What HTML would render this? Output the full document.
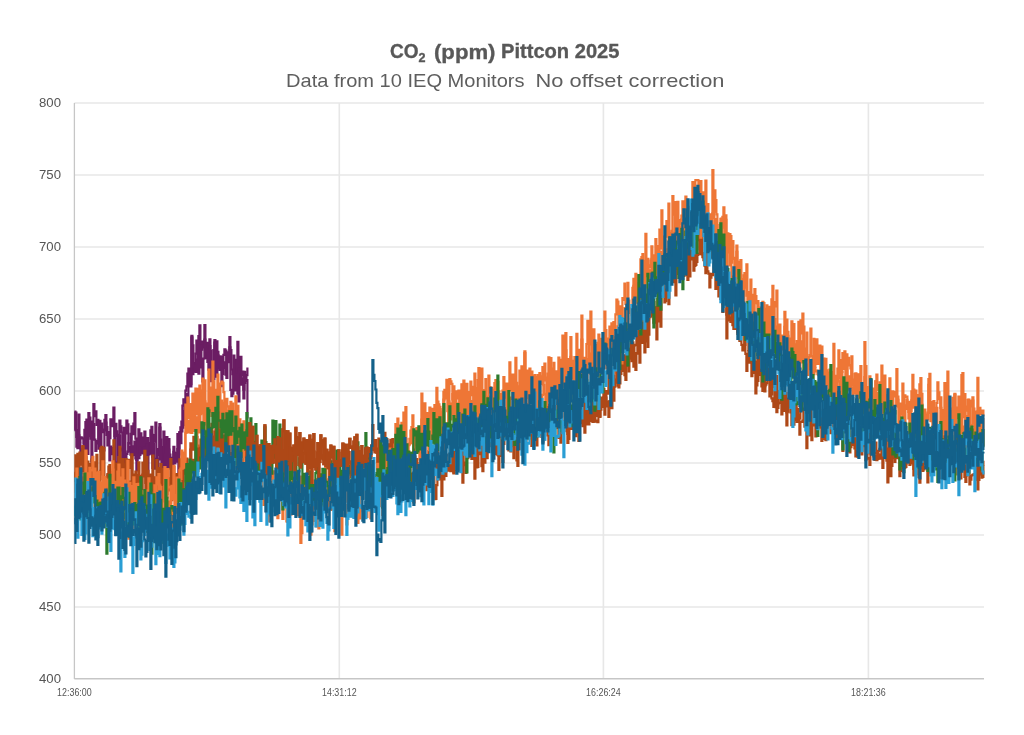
<!DOCTYPE html>
<html><head><meta charset="utf-8"><style>
html,body{margin:0;padding:0;background:#fff;width:1024px;height:735px;overflow:hidden}
svg{display:block;font-family:"Liberation Sans",sans-serif;will-change:transform}
</style></head><body>
<svg width="1024" height="735" viewBox="0 0 1024 735">
<rect width="1024" height="735" fill="#fff"/>
<g stroke="#e7e7e7" stroke-width="1.6"><line x1="74.4" y1="103" x2="984" y2="103"/><line x1="74.4" y1="175" x2="984" y2="175"/><line x1="74.4" y1="247" x2="984" y2="247"/><line x1="74.4" y1="319" x2="984" y2="319"/><line x1="74.4" y1="391" x2="984" y2="391"/><line x1="74.4" y1="463" x2="984" y2="463"/><line x1="74.4" y1="535" x2="984" y2="535"/><line x1="74.4" y1="607" x2="984" y2="607"/><line x1="74.4" y1="679" x2="984" y2="679"/><line x1="339.3" y1="103" x2="339.3" y2="679"/><line x1="603.4" y1="103" x2="603.4" y2="679"/><line x1="868.4" y1="103" x2="868.4" y2="679"/></g>
<g stroke="#c6c6c6" stroke-width="1.3"><line x1="74.4" y1="103" x2="74.4" y2="679"/><line x1="74.4" y1="678.6" x2="984" y2="678.6"/></g>
<g font-size="13" fill="#555"><text x="39" y="106.6" textLength="22" lengthAdjust="spacingAndGlyphs">800</text><text x="39" y="178.6" textLength="22" lengthAdjust="spacingAndGlyphs">750</text><text x="39" y="250.6" textLength="22" lengthAdjust="spacingAndGlyphs">700</text><text x="39" y="322.6" textLength="22" lengthAdjust="spacingAndGlyphs">650</text><text x="39" y="394.6" textLength="22" lengthAdjust="spacingAndGlyphs">600</text><text x="39" y="466.6" textLength="22" lengthAdjust="spacingAndGlyphs">550</text><text x="39" y="538.6" textLength="22" lengthAdjust="spacingAndGlyphs">500</text><text x="39" y="610.6" textLength="22" lengthAdjust="spacingAndGlyphs">450</text><text x="39" y="682.6" textLength="22" lengthAdjust="spacingAndGlyphs">400</text></g>
<g font-size="10.3" fill="#555"><text x="57.1" y="696" textLength="34.6" lengthAdjust="spacingAndGlyphs">12:36:00</text><text x="322.0" y="696" textLength="34.6" lengthAdjust="spacingAndGlyphs">14:31:12</text><text x="586.1" y="696" textLength="34.6" lengthAdjust="spacingAndGlyphs">16:26:24</text><text x="851.1" y="696" textLength="34.6" lengthAdjust="spacingAndGlyphs">18:21:36</text></g>
<g fill="#585858" font-weight="bold" stroke="#585858" stroke-width="0.35">
<text x="390" y="58.2" font-size="20" textLength="28.5" lengthAdjust="spacingAndGlyphs">CO</text>
<text x="418.6" y="62.3" font-size="12" textLength="7" lengthAdjust="spacingAndGlyphs">2</text>
<text x="434" y="58.6" font-size="21" textLength="61.5" lengthAdjust="spacingAndGlyphs">(ppm)</text>
<text x="501" y="58.2" font-size="20" textLength="118.5" lengthAdjust="spacingAndGlyphs">Pittcon 2025</text>
</g>
<g fill="#5e5e5e" font-size="19">
<text x="286" y="86.6" textLength="238.5" lengthAdjust="spacingAndGlyphs">Data from 10 IEQ Monitors</text>
<text x="535.5" y="86.6" textLength="189" lengthAdjust="spacingAndGlyphs">No offset correction</text>
</g>
<g fill="none" stroke-width="2.2" stroke-linejoin="miter" stroke-miterlimit="10"><path d="M74.4,411.7H75.4V430.2H76.4V437.0H77.4V434.4H78.4V414.7H79.4V441.9H80.4V437.4H81.4V437.5H82.4V438.5H83.4V443.7H84.4V458.8H85.4V422.1H86.4V431.3H87.4V453.9H88.4V413.1H89.4V435.8H90.4V421.5H91.4V429.8H92.4V435.6H93.4V404.1H94.4V416.1H95.4V411.4H96.4V424.8H97.4V419.8H98.4V448.6H99.4V420.8H100.4V451.3H101.4V423.7H102.4V432.2H103.4V430.5H104.4V429.7H105.4V415.1H106.4V434.8H107.4V434.7H108.4V432.5H109.4V438.2H110.4V419.4H111.4V426.2H112.4V421.2H113.4V407.6H114.4V435.9H115.4V423.8H116.4V431.3H117.4V462.5H118.4V436.7H119.4V435.3H120.4V448.5H121.4V450.4H122.4V458.0H123.4V427.9H124.4V458.0H125.4V433.5H126.4V420.6H127.4V424.4H128.4V451.2H129.4V447.1H130.4V454.6H131.4V426.4H132.4V434.2H133.4V423.5H134.4V413.1H135.4V438.6H136.4V460.0H137.4V454.0H138.4V429.3H139.4V454.9H140.4V433.4H141.4V445.7H142.4V453.3H143.4V437.6H144.4V431.6H145.4V452.5H146.4V442.7H147.4V438.2H148.4V454.4H149.4V443.2H150.4V451.4H151.4V434.6H152.4V456.8H153.4V435.0H154.4V441.6H155.4V422.5H156.4V462.9H157.4V449.1H158.4V455.0H159.4V427.6H160.4V452.4H161.4V447.0H162.4V467.6H163.4V431.6H164.4V457.1H165.4V466.4H166.4V437.1H167.4V454.9H168.4V439.2H169.4V454.6H170.4V459.2H171.4V472.4H172.4V457.8H173.4V446.9H174.4V463.3H175.4V453.8H176.4V461.7H177.4V434.2H178.4V454.3H179.4V432.0H180.4V427.3H181.4V431.3H182.4V405.6H183.4V399.4H184.4V405.3H185.4V390.6H186.4V386.4H187.4V373.7H188.4V368.6H189.4V376.5H190.4V384.2H191.4V337.3H192.4V374.2H193.4V363.0H194.4V368.0H195.4V353.6H196.4V340.6H197.4V346.5H198.4V336.1H199.4V325.4H200.4V345.5H201.4V349.6H202.4V341.6H203.4V347.3H204.4V325.0H205.4V358.2H206.4V342.8H207.4V345.8H208.4V355.3H209.4V339.4H210.4V381.2H211.4V363.1H212.4V363.4H213.4V350.2H214.4V340.2H215.4V356.5H216.4V341.4H217.4V355.1H218.4V356.6H219.4V369.9H220.4V359.9H221.4V356.8H222.4V373.8H223.4V354.8H224.4V349.4H225.4V350.7H226.4V378.0H227.4V361.0H228.4V354.3H229.4V337.1H230.4V350.1H231.4V369.5H232.4V374.2H233.4V389.6H234.4V359.8H235.4V376.0H236.4V387.2H237.4V341.8H238.4V401.3H239.4V356.9H240.4V356.9H241.4V384.6H242.4V378.7H243.4V389.7H244.4V382.9H245.4V379.8H246.4V375.1H247.4V367.5" stroke="#6b1d63"/><path d="M74.4,428.8H75.4V412.5H76.4V446.7H77.4V448.2H78.4V435.3H79.4V443.9H80.4V461.2H81.4V453.5H82.4V449.3H83.4V449.6H84.4V429.9H85.4V453.7H86.4V419.5H87.4V436.1H88.4V435.1H89.4V417.6H90.4V438.6H91.4V461.4H92.4V435.2H93.4V424.2H94.4V439.6H95.4V451.0H96.4V443.5H97.4V441.1H98.4V422.9H99.4V448.0H100.4V448.4H101.4V458.9H102.4V461.0H103.4V450.5H104.4V419.8H105.4V422.6H106.4V427.1H107.4V445.3H108.4V432.2H109.4V460.3H110.4V446.5H111.4V448.7H112.4V454.1H113.4V448.2H114.4V425.2H115.4V474.8H116.4V462.5H117.4V464.1H118.4V434.9H119.4V420.5H120.4V426.3H121.4V432.5H122.4V458.6H123.4V458.6H124.4V465.4H125.4V474.1H126.4V453.8H127.4V451.6H128.4V443.2H129.4V443.4H130.4V433.8H131.4V456.1H132.4V455.0H133.4V446.4H134.4V441.7H135.4V458.5H136.4V470.5H137.4V454.9H138.4V458.1H139.4V447.7H140.4V451.4H141.4V450.4H142.4V451.2H143.4V447.5H144.4V460.9H145.4V473.4H146.4V444.3H147.4V475.4H148.4V453.1H149.4V453.7H150.4V430.4H151.4V426.8H152.4V468.0H153.4V443.8H154.4V468.7H155.4V458.9H156.4V462.2H157.4V476.8H158.4V459.3H159.4V424.2H160.4V439.7H161.4V475.4H162.4V489.4H163.4V462.7H164.4V454.9H165.4V445.9H166.4V472.2H167.4V441.8H168.4V449.6H169.4V468.5H170.4V468.4H171.4V464.7H172.4V482.6H173.4V451.9H174.4V453.1H175.4V460.9H176.4V460.6H177.4V449.1H178.4V473.2H179.4V432.6H180.4V443.2H181.4V421.6H182.4V427.6H183.4V411.2H184.4V405.1H185.4V425.2H186.4V394.2H187.4V414.3H188.4V375.5H189.4V371.8H190.4V386.4H191.4V335.9H192.4V345.3H193.4V366.2H194.4V371.5H195.4V371.9H196.4V359.7H197.4V344.1H198.4V373.7H199.4V367.4H200.4V345.3H201.4V360.3H202.4V381.4H203.4V358.5H204.4V339.6H205.4V348.5H206.4V350.9H207.4V362.0H208.4V369.6H209.4V346.2H210.4V350.8H211.4V374.6H212.4V371.1H213.4V379.1H214.4V342.5H215.4V350.2H216.4V376.7H217.4V351.8H218.4V368.3H219.4V364.3H220.4V356.7H221.4V386.2H222.4V367.9H223.4V362.3H224.4V367.6H225.4V374.7H226.4V352.3H227.4V362.2H228.4V357.7H229.4V347.3H230.4V389.8H231.4V396.2H232.4V393.6H233.4V355.5H234.4V385.4H235.4V390.3H236.4V374.4H237.4V393.5H238.4V368.5H239.4V369.4H240.4V372.3H241.4V374.8H242.4V371.6H243.4V398.3H244.4V371.8H245.4V381.0H246.4V380.0H247.4V418.6" stroke="#6b1d63"/><path d="M74.4,472.8H75.4V491.7H76.4V478.0H77.4V453.8H78.4V460.7H79.4V478.6H80.4V468.4H81.4V483.6H82.4V446.0H83.4V494.1H84.4V491.4H85.4V451.5H86.4V465.5H87.4V461.5H88.4V464.7H89.4V481.1H90.4V464.0H91.4V459.5H92.4V480.1H93.4V488.0H94.4V466.9H95.4V475.6H96.4V454.8H97.4V484.1H98.4V499.9H99.4V478.8H100.4V470.9H101.4V446.9H102.4V468.3H103.4V447.8H104.4V482.9H105.4V494.9H106.4V490.5H107.4V475.3H108.4V479.1H109.4V465.0H110.4V475.4H111.4V475.4H112.4V473.0H113.4V440.4H114.4V476.5H115.4V478.7H116.4V463.7H117.4V478.8H118.4V483.5H119.4V446.9H120.4V484.2H121.4V467.3H122.4V459.1H123.4V476.2H124.4V464.3H125.4V468.8H126.4V462.1H127.4V466.9H128.4V459.9H129.4V468.0H130.4V460.6H131.4V457.4H132.4V486.7H133.4V474.6H134.4V479.2H135.4V496.2H136.4V483.2H137.4V475.1H138.4V462.3H139.4V486.8H140.4V482.4H141.4V489.6H142.4V474.5H143.4V472.1H144.4V450.9H145.4V483.0H146.4V457.0H147.4V470.9H148.4V483.2H149.4V478.0H150.4V475.4H151.4V483.1H152.4V455.5H153.4V477.8H154.4V492.5H155.4V492.2H156.4V460.1H157.4V491.0H158.4V484.8H159.4V468.0H160.4V464.2H161.4V480.1H162.4V499.8H163.4V488.5H164.4V471.6H165.4V484.7H166.4V497.3H167.4V483.2H168.4V478.5H169.4V490.3H170.4V459.2H171.4V491.2H172.4V469.9H173.4V485.8H174.4V491.9H175.4V484.1H176.4V474.2H177.4V477.2H178.4V489.9H179.4V459.4H180.4V463.3H181.4V476.7H182.4V481.5H183.4V469.2H184.4V460.6H185.4V473.5H186.4V458.7H187.4V486.3H188.4V475.5H189.4V480.6H190.4V443.4H191.4V447.3H192.4V449.6H193.4V436.9H194.4V445.4H195.4V462.4H196.4V437.0H197.4V445.5H198.4V467.7H199.4V451.5H200.4V452.9H201.4V446.3H202.4V437.1H203.4V439.7H204.4V447.1H205.4V435.5H206.4V443.4H207.4V437.2H208.4V441.2H209.4V461.3H210.4V449.3H211.4V423.9H212.4V436.6H213.4V460.8H214.4V459.0H215.4V421.4H216.4V441.6H217.4V436.6H218.4V406.3H219.4V442.4H220.4V463.7H221.4V430.3H222.4V436.3H223.4V453.3H224.4V435.8H225.4V435.7H226.4V444.3H227.4V424.1H228.4V448.9H229.4V426.5H230.4V443.6H231.4V453.8H232.4V465.0H233.4V435.8H234.4V448.8H235.4V450.5H236.4V425.9H237.4V447.1H238.4V451.5H239.4V455.8H240.4V474.4H241.4V451.5H242.4V448.5H243.4V448.0H244.4V450.0H245.4V456.9H246.4V470.9H247.4V437.9H248.4V451.7H249.4V423.0H250.4V432.1H251.4V454.5H252.4V426.9H253.4V458.0H254.4V470.7H255.4V443.4H256.4V445.4H257.4V454.5H258.4V448.4H259.4V454.1H260.4V445.2H261.4V464.7H262.4V457.5H263.4V452.8H264.4V425.3H265.4V444.1H266.4V453.3H267.4V461.8H268.4V444.2H269.4V460.7H270.4V463.0H271.4V446.0H272.4V462.6H273.4V451.3H274.4V439.4H275.4V452.9H276.4V469.0H277.4V457.4H278.4V452.1H279.4V462.0H280.4V460.7H281.4V454.6H282.4V429.3H283.4V420.3H284.4V431.1H285.4V471.5H286.4V459.4H287.4V431.3H288.4V460.2H289.4V433.7H290.4V452.7H291.4V461.2H292.4V448.0H293.4V458.9H294.4V460.1H295.4V427.8H296.4V447.1H297.4V454.6H298.4V442.8H299.4V433.0H300.4V467.3H301.4V452.4H302.4V442.6H303.4V438.5H304.4V448.4H305.4V463.6H306.4V442.9H307.4V454.8H308.4V452.5H309.4V446.6H310.4V449.8H311.4V450.9H312.4V439.8H313.4V434.0H314.4V460.5H315.4V469.4H316.4V459.7H317.4V443.1H318.4V453.6H319.4V445.9H320.4V435.4H321.4V440.4H322.4V446.1H323.4V459.3H324.4V438.5H325.4V466.1H326.4V453.3H327.4V468.1H328.4V465.1H329.4V454.6H330.4V453.5H331.4V456.6H332.4V457.3H333.4V461.6H334.4V474.9H335.4V461.2H336.4V473.7H337.4V466.2H338.4V450.4H339.4V460.1H340.4V463.1H341.4V465.5H342.4V450.7H343.4V468.1H344.4V447.9H345.4V453.1H346.4V462.9H347.4V456.8H348.4V444.9H349.4V438.9H350.4V447.9H351.4V446.6H352.4V479.7H353.4V441.7H354.4V437.3H355.4V480.6H356.4V434.8H357.4V447.4H358.4V460.1H359.4V455.2H360.4V458.1H361.4V472.7H362.4V481.8H363.4V455.9H364.4V458.3H365.4V450.1H366.4V447.5H367.4V449.4H368.4V456.4H369.4V448.0H370.4V457.7H371.4V448.7H372.4V441.1H373.4V449.8H374.4V450.5H375.4V448.7H376.4V450.1H377.4V461.8H378.4V438.7H379.4V465.7H380.4V447.6H381.4V453.4H382.4V469.5H383.4V466.1H384.4V432.8H385.4V460.1H386.4V471.6H387.4V444.3H388.4V450.0H389.4V471.4H390.4V439.8H391.4V476.5H392.4V439.0H393.4V447.4H394.4V449.6H395.4V453.2H396.4V469.1H397.4V465.9H398.4V463.4H399.4V465.0H400.4V444.3H401.4V456.5H402.4V476.5H403.4V449.1H404.4V479.9H405.4V461.6H406.4V450.8H407.4V472.0H408.4V471.7H409.4V455.0H410.4V456.8H411.4V452.8H412.4V456.2H413.4V436.9H414.4V456.7H415.4V479.9H416.4V459.0H417.4V469.6H418.4V476.3H419.4V467.5H420.4V460.6H421.4V459.9H422.4V460.9H423.4V471.5H424.4V463.3H425.4V476.8H426.4V490.2H427.4V474.7H428.4V451.2H429.4V471.8H430.4V465.3H431.4V461.6H432.4V457.0H433.4V461.4H434.4V499.1H435.4V499.0H436.4V485.1H437.4V452.3H438.4V465.6H439.4V475.8H440.4V459.1H441.4V469.4H442.4V474.7H443.4V479.3H444.4V466.0H445.4V464.1H446.4V457.1H447.4V454.6H448.4V460.2H449.4V456.1H450.4V466.3H451.4V460.2H452.4V452.4H453.4V472.3H454.4V450.5H455.4V461.5H456.4V460.7H457.4V446.8H458.4V453.1H459.4V456.6H460.4V445.9H461.4V436.1H462.4V482.7H463.4V441.9H464.4V446.1H465.4V445.7H466.4V447.6H467.4V458.1H468.4V456.4H469.4V438.9H470.4V450.0H471.4V453.8H472.4V443.5H473.4V458.9H474.4V447.6H475.4V456.5H476.4V433.3H477.4V467.0H478.4V443.5H479.4V433.5H480.4V434.3H481.4V435.7H482.4V448.4H483.4V416.7H484.4V432.2H485.4V456.9H486.4V458.1H487.4V430.5H488.4V445.5H489.4V446.1H490.4V441.2H491.4V437.7H492.4V453.3H493.4V440.9H494.4V447.4H495.4V454.1H496.4V432.7H497.4V433.7H498.4V470.0H499.4V431.6H500.4V455.9H501.4V455.5H502.4V441.4H503.4V435.9H504.4V437.0H505.4V428.9H506.4V437.5H507.4V435.3H508.4V431.0H509.4V432.8H510.4V446.1H511.4V436.6H512.4V433.5H513.4V458.2H514.4V434.7H515.4V442.5H516.4V425.5H517.4V424.9H518.4V443.3H519.4V448.9H520.4V402.4H521.4V443.7H522.4V443.9H523.4V433.8H524.4V439.3H525.4V417.8H526.4V434.4H527.4V416.7H528.4V426.6H529.4V424.2H530.4V429.7H531.4V412.5H532.4V430.7H533.4V431.6H534.4V439.5H535.4V418.5H536.4V431.4H537.4V417.3H538.4V430.3H539.4V416.5H540.4V410.1H541.4V416.5H542.4V441.7H543.4V439.9H544.4V423.1H545.4V423.2H546.4V426.5H547.4V404.9H548.4V445.2H549.4V410.3H550.4V407.0H551.4V419.2H552.4V409.7H553.4V424.6H554.4V428.2H555.4V416.4H556.4V421.2H557.4V411.1H558.4V398.2H559.4V404.3H560.4V442.6H561.4V416.4H562.4V395.9H563.4V405.6H564.4V408.4H565.4V426.8H566.4V417.8H567.4V434.0H568.4V439.0H569.4V423.4H570.4V421.3H571.4V429.0H572.4V408.8H573.4V410.0H574.4V392.9H575.4V422.1H576.4V402.1H577.4V416.1H578.4V440.9H579.4V396.7H580.4V406.7H581.4V399.7H582.4V397.9H583.4V419.4H584.4V390.8H585.4V413.9H586.4V410.7H587.4V421.6H588.4V387.8H589.4V394.2H590.4V420.9H591.4V387.1H592.4V410.6H593.4V421.4H594.4V389.0H595.4V393.3H596.4V415.8H597.4V388.9H598.4V413.2H599.4V416.3H600.4V401.4H601.4V399.4H602.4V398.5H603.4V388.8H604.4V405.5H605.4V402.2H606.4V391.0H607.4V393.6H608.4V371.5H609.4V375.0H610.4V360.1H611.4V376.3H612.4V392.1H613.4V384.1H614.4V372.8H615.4V372.1H616.4V370.3H617.4V385.6H618.4V357.1H619.4V383.5H620.4V373.8H621.4V348.1H622.4V371.0H623.4V371.0H624.4V355.3H625.4V379.8H626.4V346.7H627.4V350.5H628.4V355.9H629.4V358.5H630.4V348.8H631.4V361.1H632.4V342.3H633.4V355.3H634.4V345.5H635.4V344.8H636.4V331.3H637.4V339.4H638.4V320.1H639.4V318.5H640.4V332.8H641.4V342.8H642.4V318.8H643.4V333.7H644.4V352.3H645.4V330.8H646.4V330.4H647.4V318.4H648.4V295.1H649.4V311.8H650.4V316.5H651.4V300.8H652.4V315.0H653.4V302.0H654.4V319.4H655.4V308.1H656.4V307.6H657.4V308.0H658.4V299.8H659.4V318.2H660.4V285.0H661.4V287.0H662.4V295.1H663.4V296.0H664.4V276.0H665.4V301.0H666.4V285.2H667.4V292.2H668.4V274.7H669.4V273.3H670.4V280.4H671.4V269.9H672.4V266.3H673.4V275.4H674.4V279.7H675.4V267.0H676.4V274.0H677.4V258.6H678.4V271.6H679.4V254.6H680.4V267.6H681.4V250.7H682.4V264.0H683.4V271.9H684.4V260.5H685.4V238.9H686.4V275.1H687.4V249.1H688.4V229.7H689.4V276.4H690.4V245.5H691.4V259.4H692.4V252.8H693.4V270.6H694.4V265.8H695.4V224.0H696.4V249.1H697.4V229.7H698.4V240.2H699.4V237.9H700.4V239.2H701.4V228.9H702.4V253.2H703.4V257.1H704.4V258.6H705.4V273.2H706.4V251.1H707.4V244.1H708.4V257.2H709.4V228.2H710.4V257.5H711.4V247.5H712.4V250.0H713.4V248.7H714.4V252.3H715.4V273.1H716.4V252.3H717.4V262.6H718.4V278.7H719.4V277.5H720.4V299.0H721.4V286.2H722.4V311.9H723.4V300.2H724.4V279.9H725.4V292.2H726.4V314.7H727.4V282.4H728.4V289.5H729.4V281.7H730.4V305.1H731.4V321.0H732.4V325.1H733.4V311.7H734.4V300.8H735.4V321.2H736.4V318.5H737.4V332.2H738.4V326.8H739.4V340.9H740.4V322.1H741.4V332.1H742.4V333.0H743.4V331.6H744.4V345.0H745.4V322.2H746.4V326.7H747.4V317.7H748.4V350.2H749.4V361.6H750.4V359.8H751.4V376.2H752.4V360.6H753.4V351.0H754.4V367.4H755.4V367.1H756.4V368.6H757.4V380.9H758.4V358.2H759.4V360.1H760.4V370.2H761.4V386.3H762.4V364.3H763.4V389.9H764.4V391.3H765.4V371.6H766.4V368.7H767.4V375.7H768.4V359.1H769.4V396.4H770.4V382.0H771.4V394.4H772.4V375.3H773.4V387.1H774.4V384.4H775.4V407.1H776.4V376.0H777.4V404.1H778.4V391.0H779.4V391.9H780.4V372.4H781.4V392.7H782.4V390.9H783.4V404.1H784.4V393.0H785.4V393.0H786.4V412.3H787.4V406.0H788.4V398.9H789.4V406.9H790.4V412.5H791.4V404.7H792.4V405.7H793.4V424.7H794.4V405.9H795.4V380.7H796.4V416.8H797.4V422.0H798.4V418.4H799.4V418.3H800.4V383.9H801.4V397.6H802.4V409.9H803.4V410.9H804.4V408.6H805.4V394.2H806.4V401.3H807.4V404.8H808.4V420.7H809.4V435.3H810.4V392.5H811.4V413.4H812.4V401.9H813.4V425.4H814.4V418.0H815.4V421.1H816.4V416.8H817.4V407.7H818.4V407.8H819.4V413.2H820.4V427.3H821.4V440.9H822.4V431.2H823.4V417.2H824.4V439.0H825.4V425.3H826.4V421.7H827.4V422.5H828.4V410.5H829.4V404.2H830.4V414.1H831.4V421.0H832.4V426.2H833.4V410.7H834.4V423.9H835.4V406.1H836.4V442.9H837.4V421.1H838.4V416.2H839.4V436.3H840.4V429.7H841.4V418.0H842.4V451.0H843.4V421.3H844.4V436.9H845.4V424.8H846.4V441.7H847.4V441.9H848.4V425.0H849.4V424.6H850.4V447.1H851.4V436.9H852.4V445.0H853.4V439.1H854.4V448.5H855.4V443.4H856.4V431.6H857.4V456.7H858.4V438.0H859.4V441.1H860.4V442.3H861.4V454.5H862.4V430.2H863.4V440.5H864.4V438.6H865.4V437.1H866.4V427.7H867.4V408.6H868.4V432.3H869.4V453.5H870.4V441.3H871.4V438.8H872.4V442.5H873.4V456.4H874.4V445.3H875.4V442.7H876.4V452.8H877.4V459.0H878.4V450.9H879.4V448.8H880.4V427.1H881.4V428.2H882.4V448.3H883.4V441.9H884.4V442.8H885.4V452.1H886.4V458.3H887.4V482.3H888.4V437.9H889.4V451.7H890.4V476.1H891.4V439.3H892.4V454.6H893.4V435.0H894.4V461.9H895.4V439.4H896.4V454.8H897.4V458.1H898.4V443.8H899.4V432.5H900.4V439.8H901.4V451.7H902.4V456.8H903.4V459.9H904.4V440.0H905.4V466.8H906.4V456.7H907.4V450.8H908.4V444.0H909.4V439.6H910.4V424.9H911.4V444.0H912.4V450.2H913.4V468.9H914.4V460.0H915.4V437.9H916.4V459.3H917.4V439.2H918.4V477.1H919.4V482.6H920.4V456.8H921.4V446.1H922.4V468.3H923.4V457.6H924.4V458.4H925.4V455.5H926.4V444.7H927.4V460.3H928.4V467.2H929.4V455.3H930.4V449.1H931.4V448.6H932.4V461.6H933.4V465.2H934.4V449.8H935.4V438.9H936.4V458.4H937.4V450.4H938.4V457.2H939.4V478.2H940.4V471.4H941.4V432.9H942.4V445.1H943.4V456.5H944.4V436.3H945.4V433.1H946.4V451.1H947.4V450.4H948.4V451.7H949.4V458.2H950.4V447.2H951.4V452.5H952.4V452.4H953.4V466.5H954.4V431.1H955.4V460.5H956.4V433.7H957.4V438.4H958.4V460.8H959.4V461.5H960.4V462.1H961.4V458.1H962.4V459.9H963.4V451.2H964.4V462.0H965.4V476.0H966.4V436.1H967.4V457.7H968.4V452.4H969.4V443.3H970.4V457.4H971.4V459.3H972.4V429.6H973.4V436.1H974.4V462.8H975.4V460.6H976.4V480.0H977.4V459.2H978.4V480.0H979.4V461.0H980.4V451.7H981.4V468.5H982.4V461.9H983.4V465.4" stroke="#ae4817"/><path d="M74.4,483.7H75.4V455.4H76.4V478.5H77.4V456.8H78.4V484.3H79.4V452.7H80.4V463.7H81.4V464.7H82.4V446.9H83.4V482.9H84.4V453.9H85.4V457.4H86.4V466.7H87.4V483.0H88.4V464.4H89.4V498.3H90.4V474.6H91.4V471.8H92.4V480.6H93.4V473.7H94.4V462.3H95.4V468.8H96.4V477.1H97.4V494.0H98.4V478.1H99.4V480.7H100.4V448.4H101.4V471.8H102.4V474.5H103.4V496.4H104.4V494.8H105.4V477.0H106.4V481.7H107.4V474.1H108.4V466.7H109.4V476.0H110.4V472.0H111.4V480.9H112.4V485.9H113.4V476.0H114.4V492.5H115.4V465.9H116.4V479.6H117.4V481.3H118.4V457.0H119.4V486.6H120.4V487.5H121.4V499.8H122.4V478.3H123.4V486.2H124.4V487.1H125.4V459.1H126.4V482.1H127.4V461.4H128.4V481.7H129.4V487.0H130.4V481.9H131.4V454.3H132.4V496.4H133.4V482.9H134.4V491.9H135.4V471.6H136.4V476.0H137.4V506.1H138.4V478.4H139.4V475.8H140.4V476.6H141.4V493.1H142.4V462.5H143.4V476.5H144.4V470.0H145.4V509.9H146.4V493.2H147.4V480.4H148.4V481.8H149.4V476.4H150.4V474.7H151.4V477.8H152.4V502.4H153.4V477.3H154.4V479.0H155.4V486.8H156.4V501.2H157.4V489.8H158.4V471.3H159.4V485.2H160.4V485.1H161.4V469.2H162.4V476.9H163.4V490.6H164.4V481.7H165.4V508.5H166.4V493.9H167.4V484.6H168.4V489.5H169.4V478.7H170.4V481.8H171.4V500.1H172.4V489.8H173.4V466.9H174.4V474.5H175.4V497.7H176.4V475.3H177.4V483.6H178.4V497.8H179.4V479.8H180.4V477.4H181.4V474.7H182.4V489.8H183.4V467.1H184.4V459.5H185.4V473.4H186.4V489.9H187.4V472.9H188.4V484.9H189.4V479.8H190.4V449.6H191.4V462.2H192.4V459.8H193.4V460.0H194.4V473.5H195.4V475.3H196.4V465.6H197.4V470.9H198.4V447.8H199.4V463.1H200.4V439.6H201.4V447.0H202.4V434.3H203.4V464.1H204.4V442.1H205.4V456.1H206.4V430.7H207.4V449.7H208.4V455.7H209.4V446.8H210.4V446.1H211.4V446.0H212.4V442.8H213.4V438.5H214.4V431.6H215.4V454.8H216.4V443.2H217.4V444.6H218.4V447.2H219.4V428.1H220.4V426.3H221.4V426.8H222.4V465.6H223.4V441.7H224.4V454.2H225.4V425.0H226.4V443.6H227.4V450.9H228.4V443.0H229.4V462.2H230.4V445.3H231.4V449.8H232.4V465.2H233.4V471.2H234.4V456.6H235.4V448.4H236.4V451.6H237.4V469.7H238.4V442.4H239.4V442.9H240.4V444.5H241.4V468.8H242.4V462.0H243.4V446.2H244.4V448.1H245.4V456.9H246.4V450.9H247.4V443.9H248.4V447.3H249.4V455.0H250.4V450.9H251.4V458.2H252.4V454.7H253.4V450.7H254.4V465.4H255.4V465.0H256.4V435.8H257.4V462.4H258.4V453.5H259.4V446.9H260.4V468.7H261.4V461.8H262.4V465.4H263.4V451.6H264.4V480.2H265.4V464.7H266.4V451.3H267.4V481.3H268.4V448.0H269.4V476.3H270.4V453.9H271.4V449.7H272.4V448.6H273.4V445.3H274.4V446.3H275.4V462.1H276.4V456.1H277.4V437.0H278.4V459.1H279.4V438.4H280.4V462.4H281.4V450.1H282.4V453.3H283.4V470.3H284.4V431.2H285.4V483.2H286.4V489.6H287.4V469.6H288.4V463.2H289.4V447.7H290.4V469.6H291.4V454.3H292.4V452.7H293.4V445.5H294.4V471.6H295.4V465.0H296.4V437.0H297.4V452.8H298.4V438.4H299.4V465.5H300.4V443.9H301.4V454.2H302.4V462.2H303.4V453.4H304.4V441.4H305.4V450.9H306.4V440.0H307.4V473.9H308.4V468.0H309.4V435.5H310.4V442.1H311.4V482.8H312.4V463.1H313.4V451.7H314.4V466.8H315.4V460.0H316.4V466.2H317.4V452.6H318.4V478.0H319.4V461.8H320.4V444.4H321.4V458.4H322.4V455.1H323.4V464.1H324.4V463.0H325.4V461.3H326.4V449.9H327.4V462.5H328.4V452.7H329.4V479.6H330.4V445.5H331.4V455.3H332.4V452.4H333.4V446.8H334.4V464.4H335.4V463.9H336.4V462.1H337.4V477.7H338.4V452.9H339.4V465.8H340.4V460.7H341.4V463.3H342.4V443.6H343.4V444.5H344.4V470.1H345.4V444.9H346.4V472.6H347.4V478.0H348.4V452.0H349.4V463.5H350.4V461.6H351.4V477.0H352.4V484.8H353.4V468.2H354.4V468.2H355.4V472.1H356.4V445.5H357.4V456.1H358.4V467.8H359.4V451.3H360.4V477.1H361.4V446.2H362.4V456.1H363.4V460.2H364.4V467.2H365.4V448.4H366.4V454.9H367.4V464.4H368.4V460.7H369.4V466.4H370.4V448.5H371.4V445.2H372.4V425.1H373.4V441.8H374.4V452.3H375.4V440.0H376.4V452.9H377.4V468.7H378.4V452.8H379.4V470.4H380.4V468.7H381.4V459.7H382.4V469.1H383.4V471.6H384.4V443.8H385.4V480.4H386.4V439.2H387.4V464.3H388.4V452.9H389.4V454.1H390.4V463.9H391.4V456.4H392.4V458.9H393.4V461.3H394.4V451.1H395.4V466.8H396.4V451.0H397.4V470.8H398.4V450.7H399.4V468.9H400.4V459.9H401.4V484.5H402.4V455.3H403.4V481.4H404.4V462.9H405.4V449.2H406.4V486.1H407.4V481.3H408.4V490.4H409.4V465.0H410.4V482.4H411.4V489.5H412.4V473.6H413.4V502.4H414.4V469.3H415.4V485.0H416.4V463.1H417.4V465.4H418.4V470.8H419.4V474.7H420.4V479.3H421.4V482.5H422.4V450.5H423.4V478.6H424.4V469.8H425.4V454.8H426.4V467.6H427.4V484.7H428.4V482.5H429.4V457.7H430.4V467.7H431.4V467.9H432.4V488.8H433.4V468.2H434.4V461.5H435.4V469.6H436.4V439.4H437.4V469.9H438.4V479.5H439.4V472.2H440.4V445.1H441.4V495.8H442.4V474.1H443.4V465.0H444.4V464.5H445.4V475.9H446.4V463.5H447.4V462.2H448.4V470.7H449.4V449.4H450.4V471.2H451.4V450.3H452.4V466.4H453.4V473.4H454.4V467.1H455.4V470.1H456.4V454.4H457.4V449.1H458.4V470.3H459.4V455.8H460.4V446.9H461.4V449.8H462.4V448.0H463.4V465.2H464.4V462.6H465.4V472.8H466.4V440.4H467.4V454.3H468.4V452.5H469.4V427.5H470.4V451.5H471.4V458.9H472.4V441.2H473.4V436.8H474.4V478.7H475.4V434.1H476.4V467.4H477.4V452.7H478.4V454.2H479.4V442.3H480.4V436.4H481.4V466.2H482.4V471.1H483.4V438.7H484.4V462.7H485.4V448.5H486.4V457.8H487.4V444.9H488.4V438.9H489.4V428.1H490.4V425.8H491.4V445.6H492.4V443.4H493.4V431.4H494.4V426.6H495.4V435.9H496.4V449.8H497.4V455.1H498.4V455.6H499.4V443.8H500.4V452.4H501.4V428.3H502.4V461.9H503.4V443.9H504.4V432.5H505.4V430.4H506.4V428.6H507.4V436.9H508.4V450.4H509.4V430.9H510.4V451.4H511.4V442.4H512.4V420.1H513.4V426.0H514.4V428.3H515.4V433.8H516.4V460.4H517.4V466.0H518.4V439.9H519.4V440.7H520.4V428.0H521.4V449.3H522.4V424.7H523.4V429.3H524.4V435.0H525.4V444.0H526.4V435.8H527.4V404.0H528.4V435.3H529.4V426.2H530.4V433.8H531.4V445.8H532.4V410.2H533.4V431.0H534.4V440.1H535.4V411.3H536.4V445.3H537.4V436.5H538.4V432.0H539.4V419.3H540.4V434.3H541.4V436.8H542.4V418.1H543.4V420.0H544.4V416.6H545.4V429.6H546.4V429.8H547.4V435.4H548.4V428.1H549.4V418.7H550.4V423.4H551.4V412.9H552.4V435.1H553.4V412.3H554.4V413.3H555.4V424.1H556.4V400.4H557.4V427.8H558.4V437.9H559.4V429.4H560.4V429.8H561.4V426.8H562.4V421.9H563.4V421.3H564.4V407.8H565.4V425.1H566.4V431.1H567.4V442.8H568.4V415.6H569.4V423.8H570.4V424.9H571.4V413.8H572.4V412.3H573.4V412.2H574.4V414.0H575.4V436.1H576.4V397.3H577.4V402.7H578.4V400.2H579.4V420.7H580.4V423.2H581.4V404.3H582.4V426.2H583.4V402.8H584.4V432.6H585.4V415.3H586.4V424.5H587.4V396.8H588.4V424.4H589.4V415.6H590.4V406.7H591.4V394.1H592.4V421.9H593.4V421.0H594.4V408.0H595.4V421.7H596.4V420.7H597.4V422.2H598.4V397.0H599.4V417.0H600.4V409.6H601.4V397.6H602.4V406.9H603.4V397.4H604.4V414.6H605.4V397.6H606.4V401.6H607.4V406.3H608.4V416.8H609.4V401.0H610.4V377.1H611.4V408.2H612.4V391.5H613.4V400.6H614.4V386.7H615.4V379.5H616.4V365.6H617.4V382.6H618.4V387.5H619.4V369.0H620.4V367.1H621.4V363.4H622.4V367.6H623.4V368.7H624.4V375.1H625.4V360.0H626.4V365.6H627.4V349.0H628.4V371.4H629.4V358.4H630.4V340.3H631.4V344.3H632.4V352.5H633.4V366.6H634.4V353.1H635.4V369.8H636.4V353.7H637.4V336.1H638.4V335.5H639.4V362.6H640.4V331.7H641.4V329.2H642.4V325.4H643.4V318.7H644.4V341.2H645.4V341.3H646.4V315.9H647.4V346.9H648.4V334.7H649.4V317.2H650.4V302.5H651.4V313.6H652.4V311.1H653.4V322.7H654.4V307.3H655.4V322.6H656.4V339.5H657.4V299.0H658.4V299.7H659.4V321.3H660.4V326.7H661.4V280.0H662.4V294.0H663.4V279.5H664.4V302.4H665.4V296.9H666.4V283.6H667.4V294.1H668.4V304.1H669.4V253.9H670.4V265.5H671.4V272.1H672.4V278.5H673.4V282.1H674.4V277.9H675.4V295.5H676.4V273.1H677.4V262.6H678.4V261.3H679.4V244.6H680.4V265.9H681.4V273.7H682.4V252.0H683.4V275.9H684.4V247.0H685.4V269.5H686.4V257.7H687.4V280.0H688.4V260.9H689.4V258.7H690.4V249.6H691.4V240.2H692.4V245.1H693.4V240.4H694.4V232.7H695.4V264.8H696.4V261.9H697.4V254.9H698.4V253.8H699.4V229.2H700.4V213.0H701.4V254.5H702.4V257.2H703.4V260.2H704.4V265.6H705.4V266.1H706.4V252.7H707.4V271.4H708.4V273.6H709.4V287.4H710.4V277.6H711.4V273.8H712.4V275.1H713.4V263.6H714.4V271.5H715.4V288.9H716.4V258.2H717.4V273.6H718.4V296.4H719.4V280.4H720.4V270.5H721.4V299.2H722.4V303.7H723.4V303.5H724.4V304.1H725.4V286.2H726.4V338.3H727.4V299.5H728.4V302.0H729.4V320.4H730.4V321.9H731.4V317.5H732.4V321.4H733.4V328.9H734.4V327.5H735.4V314.7H736.4V328.8H737.4V334.0H738.4V336.0H739.4V333.3H740.4V323.7H741.4V344.9H742.4V350.3H743.4V349.2H744.4V327.0H745.4V353.8H746.4V370.8H747.4V360.6H748.4V351.1H749.4V362.6H750.4V360.2H751.4V360.0H752.4V372.8H753.4V372.1H754.4V361.7H755.4V393.5H756.4V385.4H757.4V354.0H758.4V373.0H759.4V375.0H760.4V345.0H761.4V361.8H762.4V391.0H763.4V379.1H764.4V386.1H765.4V384.7H766.4V383.1H767.4V377.9H768.4V370.4H769.4V365.7H770.4V377.5H771.4V398.3H772.4V401.2H773.4V407.0H774.4V390.9H775.4V383.2H776.4V412.2H777.4V407.9H778.4V402.9H779.4V403.0H780.4V393.3H781.4V414.4H782.4V378.2H783.4V397.0H784.4V410.8H785.4V404.6H786.4V425.3H787.4V411.7H788.4V398.8H789.4V398.7H790.4V383.2H791.4V425.2H792.4V413.3H793.4V420.0H794.4V399.2H795.4V401.9H796.4V421.9H797.4V408.8H798.4V414.7H799.4V434.7H800.4V421.8H801.4V421.9H802.4V420.7H803.4V411.6H804.4V426.6H805.4V420.7H806.4V448.2H807.4V427.8H808.4V400.2H809.4V416.2H810.4V410.6H811.4V440.2H812.4V421.5H813.4V407.6H814.4V419.0H815.4V436.3H816.4V434.3H817.4V427.2H818.4V427.4H819.4V410.3H820.4V421.2H821.4V424.5H822.4V416.8H823.4V430.1H824.4V414.2H825.4V440.2H826.4V420.5H827.4V417.6H828.4V415.7H829.4V425.0H830.4V433.2H831.4V432.7H832.4V420.7H833.4V431.8H834.4V417.9H835.4V430.6H836.4V439.0H837.4V435.2H838.4V427.3H839.4V423.7H840.4V437.2H841.4V432.8H842.4V411.9H843.4V421.9H844.4V430.4H845.4V435.5H846.4V433.6H847.4V451.2H848.4V422.2H849.4V452.3H850.4V431.6H851.4V440.6H852.4V433.2H853.4V440.5H854.4V421.0H855.4V456.3H856.4V433.6H857.4V438.5H858.4V413.4H859.4V439.1H860.4V432.9H861.4V450.6H862.4V446.1H863.4V436.7H864.4V426.7H865.4V460.1H866.4V441.6H867.4V458.2H868.4V458.7H869.4V464.8H870.4V432.3H871.4V434.4H872.4V444.3H873.4V441.4H874.4V459.8H875.4V455.5H876.4V460.2H877.4V454.4H878.4V457.6H879.4V458.6H880.4V454.5H881.4V446.4H882.4V467.8H883.4V449.1H884.4V434.9H885.4V431.8H886.4V460.7H887.4V449.7H888.4V448.5H889.4V437.5H890.4V456.6H891.4V465.8H892.4V458.2H893.4V441.9H894.4V453.2H895.4V457.2H896.4V444.6H897.4V441.0H898.4V441.1H899.4V476.2H900.4V470.9H901.4V453.6H902.4V456.8H903.4V467.9H904.4V467.7H905.4V464.2H906.4V445.3H907.4V445.4H908.4V455.6H909.4V464.8H910.4V463.5H911.4V455.4H912.4V447.2H913.4V475.5H914.4V445.6H915.4V457.7H916.4V459.7H917.4V463.4H918.4V474.2H919.4V434.7H920.4V425.0H921.4V464.1H922.4V470.9H923.4V469.5H924.4V467.1H925.4V458.3H926.4V456.4H927.4V482.3H928.4V450.6H929.4V472.3H930.4V456.8H931.4V459.0H932.4V447.4H933.4V455.5H934.4V450.2H935.4V438.1H936.4V445.1H937.4V435.4H938.4V468.0H939.4V444.9H940.4V452.2H941.4V477.1H942.4V465.3H943.4V452.9H944.4V469.0H945.4V460.7H946.4V463.9H947.4V445.8H948.4V466.4H949.4V459.2H950.4V451.2H951.4V444.7H952.4V453.1H953.4V447.0H954.4V459.3H955.4V460.1H956.4V449.2H957.4V474.5H958.4V469.9H959.4V444.0H960.4V478.3H961.4V451.6H962.4V443.6H963.4V462.6H964.4V476.9H965.4V481.9H966.4V458.6H967.4V469.6H968.4V469.4H969.4V484.3H970.4V479.6H971.4V475.5H972.4V474.9H973.4V474.4H974.4V474.0H975.4V470.2H976.4V464.6H977.4V489.3H978.4V473.6H979.4V474.4H980.4V469.0H981.4V477.7H982.4V466.1H983.4V477.9" stroke="#ae4817"/><path d="M74.4,487.1H75.4V486.9H76.4V468.5H77.4V478.6H78.4V479.2H79.4V480.9H80.4V514.6H81.4V475.3H82.4V475.2H83.4V473.2H84.4V497.1H85.4V473.8H86.4V479.5H87.4V495.5H88.4V494.1H89.4V467.9H90.4V512.5H91.4V488.4H92.4V499.4H93.4V489.5H94.4V511.5H95.4V478.6H96.4V472.7H97.4V489.0H98.4V504.8H99.4V482.6H100.4V497.9H101.4V509.4H102.4V461.3H103.4V507.9H104.4V504.4H105.4V478.9H106.4V486.7H107.4V480.0H108.4V500.8H109.4V478.8H110.4V498.7H111.4V511.2H112.4V461.3H113.4V496.4H114.4V488.6H115.4V481.8H116.4V496.6H117.4V487.7H118.4V464.5H119.4V479.5H120.4V488.8H121.4V477.7H122.4V469.4H123.4V531.5H124.4V515.4H125.4V514.1H126.4V495.4H127.4V460.8H128.4V489.9H129.4V503.3H130.4V487.7H131.4V486.1H132.4V501.0H133.4V530.0H134.4V501.8H135.4V499.4H136.4V486.1H137.4V522.3H138.4V503.0H139.4V498.3H140.4V495.0H141.4V491.2H142.4V505.1H143.4V534.9H144.4V503.3H145.4V511.6H146.4V490.4H147.4V507.2H148.4V478.3H149.4V524.0H150.4V492.6H151.4V509.4H152.4V504.2H153.4V525.7H154.4V512.4H155.4V513.5H156.4V477.4H157.4V484.5H158.4V484.3H159.4V485.5H160.4V487.2H161.4V515.5H162.4V499.8H163.4V501.5H164.4V486.3H165.4V485.8H166.4V478.6H167.4V516.6H168.4V501.6H169.4V512.1H170.4V503.7H171.4V485.8H172.4V499.2H173.4V465.8H174.4V512.8H175.4V498.8H176.4V495.2H177.4V487.8H178.4V489.9H179.4V470.3H180.4V468.6H181.4V450.5H182.4V452.5H183.4V455.7H184.4V459.5H185.4V432.9H186.4V410.4H187.4V397.6H188.4V417.8H189.4V404.2H190.4V420.5H191.4V432.9H192.4V393.6H193.4V427.3H194.4V424.6H195.4V388.7H196.4V396.7H197.4V414.2H198.4V388.8H199.4V385.7H200.4V414.2H201.4V391.8H202.4V390.5H203.4V410.2H204.4V401.4H205.4V403.5H206.4V422.5H207.4V419.1H208.4V369.6H209.4V411.7H210.4V396.4H211.4V401.4H212.4V408.9H213.4V423.9H214.4V407.6H215.4V394.7H216.4V404.8H217.4V374.6H218.4V408.1H219.4V404.5H220.4V383.7H221.4V381.5H222.4V382.9H223.4V392.1H224.4V415.9H225.4V405.9H226.4V398.9H227.4V406.3H228.4V432.0H229.4V409.0H230.4V401.9H231.4V451.0H232.4V403.7H233.4V425.9H234.4V434.0H235.4V425.3H236.4V421.0H237.4V447.4H238.4V431.7H239.4V442.3H240.4V433.9H241.4V462.6H242.4V424.0H243.4V421.4H244.4V430.3H245.4V444.9H246.4V445.8H247.4V454.8H248.4V445.9H249.4V466.1H250.4V438.7H251.4V443.7H252.4V461.2H253.4V456.0H254.4V456.0H255.4V461.5H256.4V461.3H257.4V479.1H258.4V487.9H259.4V498.2H260.4V483.0H261.4V470.6H262.4V465.4H263.4V466.6H264.4V459.7H265.4V493.6H266.4V512.5H267.4V484.2H268.4V488.9H269.4V449.5H270.4V482.7H271.4V473.1H272.4V485.6H273.4V471.3H274.4V473.3H275.4V472.6H276.4V475.9H277.4V518.2H278.4V497.8H279.4V464.2H280.4V483.7H281.4V481.1H282.4V518.8H283.4V458.6H284.4V497.7H285.4V500.7H286.4V521.3H287.4V514.1H288.4V485.0H289.4V462.6H290.4V471.5H291.4V476.8H292.4V484.0H293.4V477.2H294.4V467.5H295.4V499.2H296.4V491.3H297.4V484.7H298.4V483.5H299.4V482.6H300.4V476.7H301.4V533.2H302.4V487.1H303.4V484.1H304.4V517.7H305.4V488.2H306.4V498.0H307.4V476.8H308.4V486.4H309.4V464.3H310.4V500.0H311.4V524.5H312.4V496.0H313.4V497.7H314.4V510.7H315.4V511.1H316.4V479.0H317.4V481.5H318.4V488.6H319.4V514.2H320.4V475.3H321.4V485.3H322.4V490.2H323.4V493.5H324.4V495.8H325.4V486.0H326.4V511.0H327.4V479.7H328.4V524.7H329.4V494.8H330.4V502.4H331.4V471.6H332.4V496.2H333.4V471.3H334.4V467.6H335.4V502.8H336.4V489.9H337.4V471.9H338.4V458.2H339.4V503.0H340.4V491.5H341.4V503.5H342.4V506.1H343.4V509.8H344.4V455.2H345.4V446.7H346.4V501.7H347.4V461.2H348.4V509.4H349.4V497.5H350.4V489.7H351.4V489.0H352.4V463.8H353.4V487.9H354.4V485.5H355.4V494.5H356.4V520.2H357.4V481.0H358.4V499.9H359.4V518.4H360.4V479.0H361.4V477.8H362.4V479.4H363.4V473.2H364.4V465.0H365.4V502.8H366.4V516.8H367.4V501.2H368.4V482.3H369.4V481.0H370.4V494.8H371.4V477.1H372.4V484.6H373.4V477.8H374.4V499.8H375.4V494.3H376.4V486.0H377.4V463.9H378.4V472.3H379.4V491.0H380.4V506.2H381.4V466.4H382.4V514.8H383.4V463.6H384.4V461.6H385.4V471.8H386.4V452.8H387.4V461.4H388.4V461.6H389.4V450.3H390.4V451.7H391.4V463.5H392.4V472.4H393.4V486.9H394.4V452.6H395.4V424.2H396.4V438.4H397.4V418.5H398.4V444.7H399.4V430.6H400.4V446.6H401.4V436.0H402.4V439.2H403.4V431.6H404.4V462.3H405.4V407.0H406.4V453.7H407.4V454.4H408.4V444.7H409.4V438.9H410.4V441.8H411.4V427.0H412.4V415.4H413.4V444.9H414.4V442.5H415.4V445.0H416.4V428.0H417.4V446.1H418.4V439.0H419.4V459.1H420.4V428.2H421.4V393.5H422.4V410.3H423.4V432.4H424.4V403.4H425.4V437.4H426.4V413.2H427.4V426.0H428.4V427.5H429.4V407.6H430.4V427.7H431.4V438.8H432.4V408.9H433.4V410.4H434.4V405.0H435.4V425.1H436.4V429.5H437.4V401.5H438.4V404.3H439.4V423.7H440.4V411.6H441.4V438.2H442.4V409.0H443.4V399.6H444.4V389.9H445.4V398.3H446.4V379.8H447.4V411.2H448.4V433.8H449.4V379.0H450.4V381.3H451.4V383.9H452.4V399.3H453.4V386.3H454.4V416.1H455.4V418.8H456.4V391.4H457.4V398.3H458.4V390.7H459.4V412.5H460.4V430.9H461.4V384.3H462.4V391.7H463.4V380.5H464.4V405.1H465.4V404.7H466.4V383.9H467.4V392.2H468.4V431.1H469.4V429.4H470.4V381.6H471.4V395.2H472.4V386.8H473.4V399.1H474.4V373.6H475.4V401.6H476.4V408.6H477.4V411.7H478.4V368.0H479.4V421.6H480.4V376.3H481.4V368.5H482.4V409.8H483.4V406.3H484.4V391.2H485.4V406.4H486.4V403.4H487.4V398.8H488.4V375.5H489.4V387.2H490.4V392.4H491.4V412.1H492.4V417.7H493.4V390.4H494.4V383.0H495.4V380.0H496.4V407.1H497.4V381.8H498.4V426.8H499.4V395.0H500.4V394.2H501.4V402.4H502.4V390.5H503.4V377.0H504.4V392.7H505.4V397.6H506.4V383.6H507.4V387.3H508.4V390.2H509.4V362.3H510.4V379.8H511.4V390.3H512.4V374.5H513.4V400.9H514.4V402.5H515.4V357.8H516.4V382.8H517.4V398.5H518.4V386.3H519.4V399.6H520.4V401.5H521.4V366.3H522.4V394.9H523.4V376.5H524.4V353.0H525.4V397.6H526.4V376.6H527.4V385.8H528.4V397.8H529.4V402.8H530.4V382.3H531.4V371.5H532.4V376.0H533.4V403.9H534.4V380.9H535.4V415.8H536.4V411.4H537.4V375.0H538.4V414.7H539.4V376.3H540.4V382.5H541.4V383.8H542.4V367.2H543.4V385.2H544.4V393.8H545.4V420.3H546.4V404.8H547.4V373.5H548.4V387.2H549.4V400.7H550.4V380.6H551.4V368.7H552.4V379.8H553.4V362.8H554.4V382.3H555.4V371.3H556.4V397.8H557.4V374.4H558.4V357.5H559.4V388.1H560.4V371.8H561.4V359.8H562.4V378.4H563.4V359.6H564.4V343.1H565.4V350.3H566.4V385.6H567.4V390.5H568.4V359.2H569.4V371.6H570.4V337.1H571.4V378.2H572.4V360.9H573.4V372.1H574.4V357.2H575.4V361.1H576.4V333.9H577.4V366.5H578.4V349.8H579.4V362.5H580.4V383.1H581.4V315.7H582.4V371.0H583.4V359.5H584.4V357.8H585.4V366.0H586.4V344.0H587.4V320.8H588.4V340.5H589.4V344.3H590.4V311.6H591.4V357.8H592.4V357.1H593.4V329.4H594.4V348.3H595.4V347.2H596.4V345.0H597.4V342.9H598.4V358.9H599.4V343.8H600.4V372.9H601.4V342.0H602.4V358.8H603.4V360.1H604.4V311.6H605.4V339.1H606.4V341.6H607.4V342.3H608.4V339.2H609.4V350.5H610.4V343.2H611.4V323.4H612.4V346.1H613.4V322.1H614.4V330.2H615.4V314.4H616.4V299.7H617.4V301.7H618.4V343.0H619.4V329.9H620.4V306.4H621.4V327.6H622.4V298.0H623.4V299.9H624.4V283.5H625.4V303.9H626.4V318.5H627.4V347.2H628.4V300.7H629.4V308.7H630.4V309.3H631.4V315.1H632.4V287.8H633.4V278.9H634.4V310.4H635.4V273.8H636.4V301.6H637.4V283.1H638.4V290.8H639.4V297.3H640.4V259.4H641.4V320.8H642.4V261.1H643.4V262.4H644.4V287.4H645.4V233.9H646.4V261.0H647.4V276.2H648.4V265.3H649.4V266.8H650.4V260.5H651.4V258.8H652.4V255.4H653.4V290.8H654.4V268.5H655.4V239.0H656.4V250.4H657.4V269.0H658.4V275.7H659.4V229.7H660.4V248.6H661.4V210.3H662.4V236.5H663.4V272.9H664.4V254.2H665.4V236.2H666.4V221.1H667.4V236.7H668.4V235.3H669.4V236.6H670.4V242.0H671.4V230.9H672.4V196.0H673.4V211.9H674.4V214.6H675.4V202.1H676.4V242.9H677.4V201.9H678.4V226.7H679.4V224.2H680.4V220.0H681.4V215.6H682.4V201.3H683.4V216.7H684.4V228.1H685.4V196.5H686.4V235.0H687.4V201.4H688.4V227.0H689.4V206.8H690.4V237.0H691.4V235.4H692.4V182.0H693.4V241.4H694.4V200.9H695.4V180.0H696.4V180.0H697.4V180.1H698.4V214.2H699.4V212.8H700.4V181.0H701.4V210.4H702.4V192.8H703.4V192.3H704.4V207.1H705.4V180.7H706.4V217.1H707.4V214.2H708.4V235.3H709.4V221.8H710.4V214.4H711.4V227.4H712.4V170.0H713.4V211.7H714.4V190.3H715.4V200.2H716.4V214.4H717.4V233.8H718.4V246.0H719.4V249.4H720.4V218.8H721.4V227.7H722.4V216.9H723.4V207.4H724.4V252.0H725.4V215.3H726.4V252.5H727.4V233.4H728.4V242.2H729.4V265.5H730.4V236.0H731.4V262.6H732.4V241.2H733.4V257.9H734.4V259.0H735.4V266.5H736.4V245.5H737.4V265.0H738.4V277.8H739.4V261.8H740.4V286.3H741.4V287.6H742.4V279.0H743.4V275.4H744.4V287.4H745.4V274.5H746.4V295.7H747.4V292.0H748.4V313.7H749.4V292.6H750.4V279.7H751.4V304.4H752.4V294.9H753.4V327.8H754.4V289.0H755.4V296.2H756.4V303.1H757.4V303.3H758.4V310.4H759.4V349.7H760.4V307.5H761.4V333.7H762.4V301.9H763.4V303.2H764.4V312.6H765.4V341.0H766.4V319.6H767.4V322.7H768.4V306.9H769.4V314.6H770.4V356.9H771.4V299.3H772.4V285.9H773.4V318.4H774.4V306.4H775.4V302.1H776.4V290.7H777.4V333.7H778.4V328.2H779.4V324.7H780.4V345.2H781.4V349.3H782.4V335.6H783.4V349.5H784.4V311.8H785.4V342.4H786.4V319.6H787.4V335.9H788.4V363.1H789.4V338.5H790.4V371.8H791.4V361.4H792.4V355.3H793.4V324.1H794.4V345.9H795.4V352.3H796.4V359.8H797.4V345.6H798.4V321.8H799.4V361.5H800.4V320.4H801.4V333.4H802.4V313.7H803.4V348.6H804.4V362.3H805.4V365.2H806.4V332.5H807.4V359.6H808.4V357.0H809.4V361.9H810.4V369.1H811.4V360.9H812.4V384.8H813.4V338.9H814.4V366.6H815.4V363.6H816.4V339.4H817.4V363.9H818.4V358.5H819.4V345.6H820.4V370.8H821.4V359.5H822.4V379.1H823.4V358.6H824.4V388.0H825.4V372.8H826.4V372.7H827.4V384.8H828.4V402.7H829.4V369.5H830.4V373.8H831.4V372.2H832.4V378.9H833.4V343.8H834.4V400.5H835.4V404.6H836.4V400.8H837.4V377.9H838.4V350.3H839.4V360.2H840.4V379.9H841.4V371.8H842.4V353.1H843.4V368.8H844.4V351.4H845.4V356.0H846.4V382.3H847.4V365.4H848.4V357.8H849.4V365.1H850.4V368.3H851.4V387.6H852.4V394.7H853.4V393.3H854.4V373.8H855.4V373.3H856.4V411.6H857.4V384.4H858.4V374.4H859.4V397.7H860.4V366.2H861.4V408.4H862.4V413.0H863.4V397.3H864.4V342.0H865.4V391.3H866.4V398.2H867.4V392.1H868.4V429.9H869.4V376.4H870.4V380.0H871.4V406.0H872.4V389.8H873.4V408.3H874.4V391.3H875.4V381.3H876.4V374.6H877.4V389.8H878.4V386.7H879.4V408.2H880.4V401.9H881.4V365.5H882.4V412.5H883.4V388.6H884.4V375.6H885.4V429.7H886.4V395.1H887.4V399.4H888.4V407.1H889.4V378.3H890.4V401.2H891.4V404.4H892.4V391.3H893.4V406.2H894.4V413.5H895.4V406.0H896.4V369.2H897.4V396.7H898.4V407.2H899.4V427.4H900.4V414.1H901.4V409.6H902.4V383.5H903.4V413.4H904.4V443.7H905.4V405.4H906.4V399.8H907.4V409.0H908.4V418.3H909.4V401.8H910.4V410.6H911.4V391.4H912.4V403.8H913.4V407.7H914.4V399.4H915.4V390.7H916.4V436.0H917.4V409.0H918.4V421.7H919.4V384.3H920.4V406.6H921.4V404.7H922.4V444.1H923.4V424.8H924.4V409.7H925.4V421.8H926.4V414.7H927.4V419.1H928.4V384.9H929.4V373.9H930.4V409.7H931.4V411.2H932.4V411.8H933.4V435.5H934.4V408.2H935.4V412.0H936.4V403.0H937.4V382.3H938.4V392.3H939.4V399.2H940.4V407.8H941.4V437.3H942.4V418.6H943.4V410.0H944.4V383.2H945.4V424.0H946.4V404.6H947.4V371.7H948.4V415.3H949.4V414.5H950.4V417.6H951.4V415.2H952.4V397.8H953.4V407.3H954.4V394.9H955.4V407.5H956.4V416.2H957.4V417.9H958.4V396.6H959.4V434.7H960.4V407.3H961.4V375.0H962.4V432.9H963.4V426.7H964.4V433.9H965.4V410.6H966.4V406.6H967.4V399.9H968.4V423.1H969.4V426.0H970.4V425.0H971.4V425.9H972.4V400.5H973.4V416.1H974.4V423.6H975.4V411.6H976.4V442.0H977.4V377.8H978.4V419.7H979.4V407.9H980.4V414.0H981.4V414.2H982.4V410.6H983.4V416.6" stroke="#ee7636"/><path d="M74.4,483.1H75.4V504.3H76.4V516.5H77.4V483.9H78.4V481.3H79.4V503.2H80.4V487.5H81.4V500.0H82.4V513.1H83.4V496.1H84.4V505.5H85.4V450.7H86.4V504.8H87.4V485.3H88.4V473.3H89.4V486.3H90.4V470.4H91.4V470.2H92.4V456.9H93.4V479.0H94.4V468.6H95.4V478.0H96.4V504.1H97.4V492.8H98.4V471.8H99.4V499.9H100.4V509.7H101.4V494.3H102.4V493.8H103.4V491.8H104.4V477.0H105.4V510.3H106.4V501.3H107.4V492.7H108.4V493.6H109.4V493.0H110.4V519.5H111.4V491.8H112.4V469.5H113.4V500.5H114.4V512.7H115.4V508.2H116.4V491.5H117.4V471.5H118.4V530.7H119.4V481.1H120.4V498.2H121.4V494.2H122.4V487.6H123.4V491.1H124.4V480.7H125.4V484.2H126.4V491.0H127.4V497.7H128.4V538.7H129.4V482.9H130.4V517.4H131.4V500.9H132.4V493.5H133.4V477.4H134.4V499.7H135.4V484.2H136.4V507.4H137.4V508.5H138.4V483.8H139.4V522.6H140.4V501.7H141.4V505.3H142.4V509.6H143.4V497.9H144.4V522.0H145.4V531.8H146.4V509.1H147.4V521.6H148.4V537.6H149.4V519.0H150.4V504.6H151.4V527.0H152.4V510.2H153.4V505.2H154.4V485.3H155.4V510.1H156.4V493.9H157.4V512.0H158.4V474.0H159.4V488.0H160.4V530.0H161.4V533.9H162.4V511.5H163.4V509.6H164.4V467.1H165.4V512.1H166.4V493.6H167.4V469.1H168.4V487.4H169.4V486.9H170.4V514.8H171.4V507.5H172.4V543.4H173.4V529.3H174.4V506.7H175.4V512.5H176.4V477.7H177.4V506.0H178.4V480.1H179.4V482.2H180.4V479.0H181.4V468.7H182.4V455.6H183.4V468.3H184.4V462.7H185.4V404.5H186.4V430.2H187.4V432.4H188.4V420.7H189.4V426.7H190.4V432.6H191.4V417.8H192.4V411.9H193.4V430.9H194.4V418.9H195.4V417.3H196.4V446.4H197.4V429.1H198.4V394.7H199.4V432.4H200.4V397.7H201.4V413.1H202.4V378.5H203.4V424.4H204.4V380.3H205.4V415.3H206.4V441.3H207.4V416.5H208.4V405.8H209.4V387.5H210.4V397.6H211.4V415.9H212.4V361.6H213.4V381.3H214.4V418.0H215.4V389.8H216.4V417.4H217.4V410.3H218.4V386.5H219.4V400.8H220.4V427.5H221.4V400.7H222.4V407.3H223.4V418.4H224.4V402.8H225.4V408.0H226.4V421.2H227.4V410.9H228.4V415.6H229.4V427.9H230.4V448.5H231.4V418.4H232.4V411.2H233.4V468.0H234.4V441.0H235.4V396.4H236.4V422.4H237.4V405.8H238.4V448.2H239.4V419.4H240.4V433.8H241.4V471.1H242.4V435.8H243.4V448.9H244.4V457.2H245.4V470.3H246.4V473.6H247.4V483.2H248.4V450.3H249.4V470.5H250.4V436.5H251.4V467.4H252.4V467.0H253.4V500.9H254.4V480.2H255.4V471.9H256.4V474.6H257.4V468.8H258.4V477.6H259.4V476.1H260.4V489.1H261.4V479.1H262.4V489.0H263.4V505.0H264.4V469.3H265.4V475.1H266.4V466.8H267.4V521.4H268.4V515.5H269.4V496.3H270.4V489.5H271.4V473.7H272.4V506.5H273.4V491.8H274.4V498.2H275.4V493.0H276.4V447.3H277.4V464.3H278.4V482.5H279.4V500.4H280.4V475.3H281.4V494.2H282.4V486.0H283.4V474.1H284.4V503.0H285.4V474.7H286.4V472.6H287.4V521.8H288.4V518.9H289.4V499.0H290.4V514.7H291.4V485.9H292.4V493.0H293.4V503.4H294.4V503.7H295.4V507.7H296.4V478.0H297.4V515.3H298.4V481.1H299.4V498.7H300.4V542.9H301.4V516.4H302.4V491.9H303.4V505.3H304.4V487.1H305.4V488.2H306.4V486.1H307.4V493.8H308.4V499.4H309.4V509.3H310.4V534.6H311.4V507.5H312.4V504.4H313.4V480.7H314.4V521.0H315.4V502.2H316.4V526.5H317.4V502.9H318.4V528.5H319.4V491.9H320.4V495.3H321.4V498.0H322.4V496.4H323.4V505.3H324.4V502.7H325.4V467.0H326.4V479.7H327.4V485.0H328.4V506.8H329.4V492.4H330.4V510.0H331.4V509.2H332.4V502.2H333.4V466.0H334.4V531.1H335.4V508.0H336.4V491.6H337.4V505.6H338.4V492.4H339.4V501.3H340.4V487.1H341.4V534.6H342.4V496.0H343.4V507.8H344.4V490.0H345.4V514.5H346.4V524.5H347.4V505.0H348.4V488.7H349.4V505.9H350.4V499.8H351.4V516.5H352.4V507.4H353.4V509.4H354.4V500.3H355.4V498.5H356.4V503.4H357.4V522.9H358.4V501.4H359.4V511.1H360.4V493.4H361.4V495.8H362.4V482.9H363.4V498.0H364.4V490.6H365.4V464.6H366.4V485.9H367.4V475.8H368.4V495.1H369.4V491.6H370.4V518.4H371.4V497.4H372.4V484.3H373.4V485.2H374.4V483.9H375.4V481.7H376.4V496.8H377.4V478.8H378.4V491.5H379.4V502.1H380.4V476.1H381.4V482.3H382.4V507.1H383.4V485.8H384.4V469.6H385.4V482.6H386.4V466.5H387.4V454.9H388.4V479.8H389.4V448.5H390.4V450.2H391.4V456.8H392.4V471.1H393.4V466.8H394.4V444.6H395.4V452.6H396.4V446.2H397.4V464.1H398.4V453.7H399.4V435.2H400.4V457.9H401.4V422.8H402.4V437.9H403.4V412.6H404.4V457.0H405.4V439.1H406.4V450.8H407.4V484.0H408.4V445.1H409.4V443.6H410.4V430.7H411.4V443.0H412.4V431.7H413.4V447.3H414.4V445.0H415.4V439.7H416.4V430.8H417.4V431.1H418.4V431.2H419.4V428.4H420.4V438.9H421.4V419.6H422.4V426.4H423.4V436.1H424.4V456.4H425.4V434.7H426.4V426.1H427.4V423.5H428.4V450.2H429.4V416.4H430.4V415.8H431.4V421.1H432.4V409.5H433.4V415.6H434.4V427.0H435.4V415.1H436.4V387.8H437.4V423.1H438.4V429.2H439.4V406.8H440.4V443.5H441.4V416.6H442.4V418.1H443.4V391.8H444.4V450.9H445.4V445.2H446.4V433.3H447.4V439.6H448.4V401.5H449.4V403.6H450.4V419.3H451.4V412.8H452.4V394.2H453.4V414.4H454.4V425.4H455.4V407.9H456.4V434.6H457.4V416.1H458.4V403.4H459.4V396.6H460.4V391.1H461.4V421.8H462.4V384.9H463.4V416.3H464.4V415.1H465.4V384.9H466.4V414.4H467.4V405.8H468.4V432.9H469.4V411.3H470.4V401.1H471.4V411.5H472.4V422.2H473.4V387.3H474.4V388.1H475.4V413.7H476.4V433.4H477.4V380.1H478.4V425.9H479.4V408.7H480.4V414.3H481.4V410.6H482.4V394.7H483.4V390.1H484.4V434.8H485.4V379.1H486.4V401.3H487.4V422.4H488.4V396.8H489.4V410.6H490.4V400.8H491.4V387.8H492.4V408.1H493.4V399.5H494.4V389.9H495.4V411.1H496.4V394.9H497.4V403.5H498.4V391.3H499.4V423.8H500.4V414.5H501.4V404.4H502.4V397.3H503.4V395.5H504.4V396.9H505.4V386.4H506.4V423.3H507.4V386.3H508.4V414.3H509.4V414.8H510.4V397.6H511.4V398.8H512.4V379.6H513.4V397.3H514.4V391.3H515.4V414.6H516.4V389.1H517.4V389.2H518.4V409.4H519.4V370.6H520.4V387.1H521.4V416.0H522.4V394.0H523.4V409.8H524.4V351.4H525.4V383.9H526.4V391.4H527.4V370.5H528.4V406.6H529.4V368.6H530.4V381.5H531.4V395.1H532.4V391.8H533.4V385.6H534.4V375.2H535.4V392.1H536.4V377.0H537.4V411.5H538.4V384.0H539.4V373.0H540.4V405.7H541.4V416.7H542.4V394.9H543.4V380.3H544.4V363.6H545.4V377.7H546.4V401.2H547.4V396.4H548.4V357.3H549.4V389.3H550.4V358.0H551.4V394.8H552.4V411.8H553.4V380.1H554.4V400.4H555.4V375.7H556.4V379.4H557.4V394.5H558.4V396.1H559.4V373.5H560.4V401.1H561.4V379.1H562.4V335.5H563.4V386.6H564.4V387.3H565.4V333.1H566.4V372.6H567.4V386.6H568.4V377.1H569.4V360.2H570.4V356.8H571.4V370.5H572.4V364.6H573.4V379.5H574.4V371.9H575.4V391.6H576.4V359.1H577.4V375.6H578.4V375.1H579.4V366.3H580.4V377.4H581.4V339.5H582.4V358.6H583.4V393.1H584.4V371.2H585.4V362.5H586.4V378.5H587.4V359.0H588.4V343.8H589.4V364.0H590.4V373.8H591.4V353.6H592.4V383.3H593.4V361.7H594.4V356.8H595.4V345.9H596.4V387.2H597.4V391.0H598.4V334.6H599.4V351.5H600.4V338.8H601.4V368.4H602.4V347.5H603.4V362.9H604.4V344.3H605.4V330.2H606.4V368.5H607.4V345.7H608.4V338.7H609.4V326.6H610.4V344.8H611.4V358.2H612.4V332.7H613.4V373.6H614.4V362.6H615.4V337.3H616.4V343.8H617.4V326.4H618.4V339.8H619.4V312.0H620.4V310.9H621.4V363.5H622.4V327.8H623.4V335.9H624.4V308.2H625.4V326.3H626.4V315.2H627.4V282.8H628.4V310.9H629.4V313.0H630.4V309.9H631.4V328.2H632.4V318.8H633.4V285.8H634.4V294.4H635.4V300.5H636.4V302.7H637.4V299.1H638.4V275.5H639.4V298.6H640.4V288.4H641.4V257.2H642.4V254.0H643.4V264.5H644.4V273.2H645.4V263.2H646.4V267.7H647.4V258.8H648.4V270.3H649.4V285.3H650.4V282.1H651.4V246.3H652.4V284.9H653.4V292.1H654.4V256.8H655.4V295.5H656.4V266.8H657.4V246.0H658.4V286.7H659.4V259.0H660.4V251.7H661.4V287.9H662.4V278.8H663.4V249.3H664.4V240.9H665.4V249.4H666.4V251.3H667.4V260.1H668.4V203.7H669.4V248.0H670.4V243.3H671.4V232.8H672.4V239.7H673.4V245.5H674.4V208.1H675.4V210.6H676.4V229.0H677.4V226.0H678.4V226.9H679.4V232.8H680.4V260.0H681.4V219.4H682.4V230.1H683.4V239.4H684.4V220.5H685.4V218.5H686.4V229.6H687.4V230.7H688.4V209.9H689.4V230.0H690.4V226.9H691.4V223.2H692.4V232.5H693.4V192.6H694.4V226.0H695.4V203.0H696.4V207.5H697.4V202.2H698.4V189.1H699.4V212.1H700.4V237.7H701.4V211.4H702.4V230.1H703.4V199.7H704.4V203.0H705.4V214.4H706.4V205.7H707.4V204.2H708.4V227.3H709.4V224.1H710.4V229.9H711.4V217.9H712.4V213.4H713.4V210.0H714.4V234.4H715.4V219.1H716.4V242.5H717.4V242.3H718.4V262.8H719.4V225.2H720.4V255.9H721.4V218.6H722.4V260.6H723.4V253.7H724.4V266.8H725.4V219.8H726.4V277.0H727.4V251.6H728.4V251.8H729.4V234.0H730.4V249.0H731.4V283.5H732.4V293.5H733.4V276.7H734.4V259.7H735.4V283.8H736.4V251.9H737.4V273.5H738.4V269.1H739.4V300.2H740.4V260.2H741.4V280.9H742.4V295.9H743.4V301.5H744.4V273.2H745.4V287.3H746.4V264.4H747.4V314.2H748.4V295.5H749.4V298.5H750.4V297.1H751.4V332.9H752.4V309.5H753.4V297.7H754.4V330.1H755.4V323.5H756.4V313.8H757.4V301.2H758.4V317.2H759.4V325.7H760.4V315.8H761.4V317.5H762.4V335.4H763.4V308.8H764.4V334.4H765.4V317.7H766.4V305.4H767.4V340.0H768.4V339.4H769.4V316.3H770.4V317.1H771.4V348.5H772.4V333.6H773.4V303.7H774.4V319.2H775.4V340.1H776.4V326.7H777.4V351.3H778.4V331.2H779.4V348.1H780.4V341.5H781.4V347.7H782.4V345.3H783.4V344.6H784.4V326.9H785.4V366.8H786.4V340.7H787.4V331.9H788.4V376.1H789.4V343.4H790.4V377.4H791.4V321.3H792.4V360.1H793.4V356.5H794.4V344.4H795.4V374.1H796.4V341.2H797.4V358.4H798.4V348.9H799.4V371.3H800.4V341.3H801.4V362.3H802.4V361.5H803.4V326.6H804.4V403.6H805.4V364.6H806.4V368.9H807.4V374.9H808.4V357.0H809.4V355.2H810.4V328.7H811.4V356.1H812.4V363.7H813.4V374.2H814.4V368.2H815.4V371.3H816.4V370.7H817.4V374.2H818.4V375.2H819.4V372.7H820.4V384.3H821.4V346.7H822.4V364.9H823.4V383.1H824.4V371.8H825.4V358.9H826.4V370.4H827.4V373.3H828.4V378.0H829.4V410.0H830.4V402.3H831.4V373.0H832.4V385.0H833.4V414.0H834.4V375.9H835.4V396.3H836.4V379.4H837.4V368.5H838.4V381.3H839.4V385.0H840.4V403.9H841.4V372.0H842.4V405.6H843.4V381.5H844.4V382.9H845.4V370.2H846.4V354.3H847.4V388.7H848.4V376.3H849.4V389.8H850.4V384.8H851.4V356.4H852.4V379.5H853.4V386.4H854.4V387.8H855.4V389.4H856.4V387.4H857.4V374.8H858.4V388.0H859.4V381.2H860.4V391.2H861.4V393.2H862.4V392.8H863.4V424.5H864.4V377.0H865.4V366.1H866.4V404.0H867.4V387.1H868.4V399.6H869.4V393.2H870.4V401.8H871.4V389.5H872.4V388.7H873.4V427.2H874.4V416.5H875.4V381.3H876.4V393.0H877.4V418.9H878.4V401.9H879.4V382.4H880.4V406.8H881.4V414.0H882.4V396.3H883.4V404.8H884.4V392.7H885.4V422.6H886.4V435.2H887.4V406.1H888.4V395.6H889.4V417.7H890.4V409.3H891.4V408.8H892.4V392.6H893.4V396.5H894.4V392.2H895.4V396.2H896.4V405.3H897.4V399.9H898.4V437.8H899.4V407.5H900.4V403.7H901.4V412.3H902.4V428.0H903.4V430.7H904.4V395.4H905.4V397.1H906.4V396.6H907.4V408.6H908.4V412.0H909.4V437.1H910.4V435.0H911.4V400.4H912.4V374.9H913.4V389.5H914.4V400.0H915.4V412.4H916.4V423.4H917.4V395.0H918.4V427.7H919.4V429.6H920.4V378.1H921.4V393.9H922.4V443.0H923.4V410.5H924.4V415.4H925.4V461.3H926.4V419.4H927.4V412.5H928.4V379.1H929.4V413.0H930.4V421.2H931.4V402.1H932.4V439.8H933.4V401.0H934.4V437.3H935.4V422.6H936.4V407.9H937.4V426.7H938.4V440.8H939.4V429.3H940.4V397.4H941.4V432.9H942.4V414.5H943.4V432.5H944.4V433.8H945.4V417.5H946.4V433.8H947.4V407.3H948.4V436.8H949.4V411.0H950.4V429.1H951.4V421.8H952.4V408.5H953.4V438.9H954.4V393.9H955.4V432.1H956.4V411.5H957.4V417.2H958.4V417.5H959.4V405.4H960.4V423.7H961.4V399.5H962.4V373.1H963.4V417.2H964.4V394.1H965.4V434.8H966.4V416.1H967.4V419.1H968.4V399.6H969.4V432.4H970.4V406.4H971.4V400.9H972.4V397.3H973.4V408.7H974.4V439.2H975.4V430.8H976.4V421.0H977.4V411.5H978.4V416.9H979.4V442.1H980.4V425.7H981.4V423.1H982.4V444.8H983.4V417.7" stroke="#ee7636"/><path d="M74.4,515.3H75.4V506.7H76.4V509.9H77.4V499.6H78.4V517.1H79.4V477.1H80.4V519.3H81.4V495.9H82.4V496.7H83.4V482.7H84.4V473.7H85.4V492.9H86.4V512.5H87.4V506.5H88.4V516.4H89.4V499.8H90.4V506.9H91.4V501.6H92.4V487.4H93.4V502.5H94.4V496.1H95.4V516.1H96.4V500.6H97.4V503.4H98.4V512.6H99.4V518.8H100.4V502.6H101.4V503.5H102.4V508.4H103.4V522.7H104.4V492.8H105.4V490.6H106.4V553.6H107.4V505.6H108.4V509.8H109.4V474.9H110.4V500.3H111.4V504.3H112.4V497.0H113.4V498.6H114.4V503.1H115.4V510.9H116.4V521.2H117.4V487.5H118.4V487.5H119.4V516.5H120.4V511.4H121.4V496.3H122.4V488.1H123.4V497.9H124.4V509.4H125.4V518.5H126.4V525.1H127.4V520.6H128.4V492.8H129.4V536.6H130.4V519.7H131.4V508.1H132.4V507.8H133.4V524.3H134.4V503.2H135.4V505.0H136.4V512.0H137.4V533.2H138.4V487.0H139.4V525.4H140.4V477.3H141.4V495.6H142.4V512.7H143.4V525.8H144.4V490.0H145.4V526.6H146.4V531.3H147.4V505.7H148.4V509.2H149.4V510.3H150.4V483.5H151.4V553.6H152.4V523.9H153.4V494.3H154.4V524.4H155.4V522.3H156.4V512.7H157.4V517.9H158.4V529.9H159.4V506.8H160.4V499.9H161.4V542.7H162.4V521.5H163.4V508.9H164.4V541.0H165.4V480.2H166.4V497.9H167.4V525.5H168.4V519.2H169.4V521.9H170.4V508.5H171.4V506.2H172.4V507.8H173.4V510.6H174.4V527.0H175.4V531.4H176.4V520.6H177.4V530.9H178.4V479.6H179.4V501.0H180.4V483.3H181.4V524.6H182.4V489.4H183.4V499.3H184.4V489.1H185.4V469.8H186.4V464.0H187.4V483.2H188.4V483.7H189.4V459.7H190.4V491.5H191.4V461.6H192.4V472.4H193.4V462.6H194.4V470.9H195.4V430.0H196.4V476.5H197.4V464.3H198.4V462.5H199.4V468.5H200.4V457.7H201.4V422.4H202.4V434.0H203.4V423.1H204.4V431.3H205.4V447.4H206.4V458.6H207.4V408.3H208.4V410.3H209.4V427.8H210.4V433.8H211.4V427.8H212.4V413.1H213.4V427.0H214.4V425.0H215.4V407.8H216.4V440.2H217.4V396.9H218.4V420.7H219.4V420.4H220.4V427.5H221.4V437.3H222.4V413.9H223.4V420.3H224.4V432.0H225.4V449.6H226.4V413.3H227.4V435.2H228.4V427.8H229.4V411.3H230.4V434.7H231.4V411.3H232.4V428.1H233.4V431.1H234.4V464.6H235.4V416.6H236.4V442.8H237.4V436.6H238.4V431.4H239.4V427.9H240.4V456.8H241.4V424.5H242.4V448.2H243.4V432.3H244.4V447.0H245.4V449.7H246.4V413.0H247.4V423.5H248.4V438.2H249.4V441.0H250.4V418.3H251.4V448.3H252.4V457.5H253.4V442.2H254.4V445.8H255.4V424.1H256.4V461.3H257.4V474.4H258.4V490.2H259.4V449.8H260.4V477.7H261.4V440.5H262.4V456.7H263.4V453.0H264.4V427.3H265.4V442.1H266.4V452.5H267.4V453.2H268.4V446.4H269.4V454.1H270.4V469.3H271.4V473.6H272.4V420.7H273.4V449.0H274.4V457.7H275.4V421.0H276.4V465.9H277.4V480.6H278.4V438.9H279.4V424.5H280.4V454.3H281.4V486.1H282.4V509.4H283.4V473.6H284.4V467.4H285.4V454.3H286.4V480.4H287.4V457.1H288.4V471.6H289.4V487.5H290.4V472.2H291.4V455.9H292.4V478.9H293.4V492.3H294.4V493.0H295.4V447.5H296.4V481.8H297.4V483.1H298.4V471.4H299.4V458.3H300.4V464.0H301.4V464.1H302.4V511.3H303.4V482.3H304.4V473.8H305.4V483.6H306.4V500.1H307.4V476.9H308.4V491.8H309.4V489.4H310.4V471.6H311.4V504.4H312.4V485.0H313.4V498.2H314.4V503.3H315.4V473.1H316.4V466.8H317.4V470.1H318.4V514.8H319.4V480.3H320.4V474.4H321.4V504.1H322.4V468.8H323.4V510.6H324.4V469.3H325.4V485.8H326.4V481.8H327.4V486.2H328.4V495.8H329.4V492.9H330.4V461.4H331.4V463.8H332.4V478.7H333.4V492.5H334.4V474.6H335.4V471.0H336.4V450.5H337.4V489.0H338.4V483.8H339.4V464.1H340.4V474.9H341.4V503.1H342.4V470.9H343.4V468.3H344.4V489.6H345.4V449.3H346.4V473.1H347.4V474.7H348.4V465.8H349.4V471.3H350.4V473.1H351.4V481.1H352.4V475.9H353.4V489.7H354.4V491.2H355.4V478.1H356.4V474.3H357.4V442.3H358.4V493.5H359.4V481.0H360.4V481.2H361.4V495.1H362.4V468.3H363.4V466.5H364.4V488.4H365.4V433.2H366.4V490.8H367.4V481.1H368.4V456.6H369.4V465.1H370.4V494.9H371.4V465.3H372.4V489.9H373.4V483.4H374.4V477.6H375.4V475.2H376.4V473.1H377.4V469.3H378.4V480.1H379.4V488.4H380.4V440.9H381.4V494.7H382.4V507.6H383.4V445.7H384.4V489.1H385.4V470.9H386.4V480.9H387.4V468.0H388.4V451.1H389.4V477.7H390.4V468.8H391.4V472.5H392.4V449.2H393.4V462.5H394.4V478.3H395.4V434.8H396.4V462.5H397.4V428.7H398.4V467.4H399.4V485.2H400.4V425.7H401.4V445.3H402.4V456.7H403.4V432.2H404.4V462.6H405.4V452.5H406.4V444.4H407.4V465.2H408.4V451.5H409.4V490.3H410.4V466.9H411.4V452.8H412.4V453.0H413.4V429.3H414.4V435.4H415.4V431.3H416.4V452.9H417.4V451.3H418.4V426.3H419.4V449.4H420.4V443.6H421.4V433.9H422.4V452.3H423.4V438.3H424.4V431.3H425.4V434.0H426.4V445.5H427.4V419.2H428.4V431.5H429.4V445.9H430.4V454.0H431.4V442.7H432.4V435.5H433.4V413.1H434.4V452.9H435.4V423.3H436.4V419.4H437.4V450.0H438.4V421.6H439.4V417.4H440.4V437.0H441.4V444.2H442.4V438.6H443.4V404.2H444.4V436.3H445.4V425.0H446.4V423.4H447.4V439.4H448.4V440.6H449.4V406.3H450.4V445.6H451.4V424.9H452.4V426.5H453.4V416.1H454.4V430.8H455.4V440.4H456.4V419.3H457.4V404.1H458.4V464.6H459.4V444.1H460.4V436.4H461.4V449.2H462.4V414.6H463.4V418.0H464.4V409.7H465.4V425.6H466.4V472.4H467.4V453.4H468.4V416.0H469.4V449.1H470.4V441.6H471.4V449.2H472.4V415.1H473.4V424.4H474.4V406.4H475.4V423.9H476.4V436.6H477.4V419.4H478.4V421.5H479.4V437.1H480.4V415.9H481.4V404.4H482.4V432.6H483.4V391.9H484.4V442.4H485.4V404.8H486.4V411.8H487.4V398.4H488.4V441.4H489.4V441.8H490.4V425.1H491.4V427.6H492.4V443.4H493.4V422.8H494.4V398.5H495.4V403.5H496.4V408.8H497.4V375.6H498.4V411.3H499.4V409.5H500.4V424.0H501.4V415.9H502.4V440.4H503.4V409.6H504.4V421.5H505.4V432.9H506.4V416.8H507.4V421.8H508.4V391.1H509.4V419.6H510.4V412.3H511.4V433.3H512.4V415.6H513.4V422.1H514.4V445.0H515.4V399.5H516.4V422.4H517.4V401.8H518.4V414.1H519.4V419.4H520.4V408.5H521.4V434.5H522.4V409.5H523.4V415.6H524.4V421.2H525.4V417.9H526.4V424.8H527.4V407.6H528.4V438.7H529.4V427.3H530.4V428.7H531.4V427.0H532.4V417.8H533.4V421.8H534.4V427.4H535.4V437.1H536.4V429.1H537.4V412.9H538.4V424.7H539.4V401.3H540.4V421.6H541.4V414.5H542.4V416.4H543.4V416.4H544.4V402.2H545.4V409.7H546.4V413.8H547.4V419.8H548.4V421.2H549.4V412.8H550.4V406.1H551.4V435.7H552.4V398.9H553.4V452.5H554.4V437.7H555.4V422.2H556.4V410.7H557.4V412.6H558.4V404.0H559.4V431.0H560.4V423.6H561.4V405.3H562.4V410.7H563.4V409.7H564.4V402.5H565.4V413.2H566.4V402.5H567.4V421.0H568.4V410.2H569.4V390.0H570.4V408.0H571.4V425.9H572.4V405.6H573.4V395.4H574.4V382.2H575.4V390.2H576.4V406.5H577.4V401.8H578.4V372.1H579.4V403.7H580.4V375.1H581.4V395.5H582.4V393.8H583.4V395.9H584.4V392.6H585.4V380.8H586.4V380.4H587.4V395.4H588.4V389.6H589.4V406.2H590.4V386.9H591.4V400.6H592.4V388.9H593.4V381.2H594.4V410.7H595.4V368.4H596.4V373.8H597.4V395.0H598.4V398.9H599.4V385.2H600.4V375.0H601.4V374.8H602.4V392.2H603.4V346.5H604.4V343.6H605.4V361.2H606.4V350.7H607.4V360.1H608.4V362.0H609.4V354.0H610.4V361.3H611.4V356.5H612.4V348.9H613.4V351.5H614.4V349.6H615.4V340.6H616.4V368.6H617.4V355.1H618.4V330.8H619.4V369.0H620.4V352.1H621.4V332.7H622.4V340.2H623.4V319.3H624.4V325.9H625.4V323.6H626.4V343.4H627.4V365.4H628.4V341.0H629.4V333.4H630.4V328.5H631.4V339.8H632.4V335.1H633.4V307.9H634.4V306.9H635.4V312.5H636.4V328.9H637.4V313.0H638.4V275.1H639.4V318.0H640.4V334.3H641.4V313.9H642.4V297.6H643.4V311.3H644.4V314.6H645.4V304.0H646.4V294.6H647.4V273.9H648.4V314.9H649.4V281.8H650.4V309.1H651.4V279.4H652.4V272.7H653.4V327.5H654.4V262.9H655.4V293.5H656.4V277.3H657.4V305.6H658.4V279.4H659.4V281.2H660.4V309.6H661.4V271.3H662.4V273.5H663.4V281.2H664.4V254.7H665.4V275.9H666.4V258.8H667.4V284.5H668.4V267.3H669.4V237.5H670.4V250.7H671.4V243.2H672.4V276.9H673.4V241.3H674.4V269.0H675.4V241.6H676.4V252.1H677.4V251.1H678.4V277.8H679.4V234.2H680.4V243.7H681.4V228.8H682.4V289.2H683.4V242.0H684.4V250.0H685.4V231.5H686.4V247.7H687.4V245.5H688.4V228.2H689.4V243.1H690.4V225.8H691.4V213.1H692.4V250.4H693.4V239.0H694.4V225.6H695.4V198.0H696.4V252.8H697.4V216.9H698.4V210.7H699.4V217.3H700.4V227.3H701.4V211.4H702.4V201.5H703.4V228.7H704.4V235.4H705.4V219.0H706.4V233.4H707.4V251.0H708.4V241.2H709.4V230.0H710.4V249.9H711.4V228.1H712.4V244.8H713.4V247.0H714.4V250.1H715.4V260.6H716.4V242.2H717.4V260.8H718.4V230.1H719.4V261.7H720.4V223.4H721.4V256.9H722.4V277.5H723.4V234.7H724.4V267.4H725.4V285.7H726.4V273.8H727.4V268.8H728.4V293.5H729.4V282.5H730.4V286.4H731.4V279.1H732.4V299.1H733.4V300.7H734.4V290.1H735.4V307.4H736.4V298.3H737.4V316.2H738.4V270.0H739.4V282.7H740.4V300.1H741.4V327.1H742.4V331.1H743.4V313.1H744.4V310.5H745.4V339.8H746.4V319.1H747.4V302.0H748.4V317.9H749.4V338.9H750.4V335.8H751.4V360.2H752.4V330.8H753.4V360.2H754.4V322.6H755.4V340.8H756.4V335.5H757.4V354.8H758.4V309.2H759.4V352.5H760.4V340.6H761.4V352.5H762.4V381.5H763.4V322.6H764.4V369.5H765.4V346.3H766.4V334.6H767.4V353.7H768.4V334.5H769.4V339.2H770.4V372.9H771.4V363.5H772.4V359.2H773.4V375.7H774.4V330.9H775.4V357.2H776.4V343.2H777.4V368.7H778.4V369.2H779.4V343.4H780.4V382.3H781.4V399.6H782.4V355.6H783.4V377.4H784.4V374.0H785.4V353.5H786.4V372.8H787.4V367.5H788.4V358.2H789.4V385.9H790.4V396.5H791.4V348.6H792.4V352.1H793.4V377.4H794.4V355.1H795.4V404.4H796.4V373.3H797.4V403.9H798.4V373.7H799.4V380.8H800.4V387.5H801.4V409.3H802.4V398.1H803.4V361.0H804.4V382.3H805.4V384.7H806.4V390.8H807.4V427.7H808.4V402.8H809.4V379.0H810.4V383.3H811.4V391.4H812.4V375.0H813.4V386.8H814.4V381.2H815.4V405.9H816.4V382.7H817.4V435.9H818.4V394.6H819.4V371.9H820.4V397.2H821.4V393.7H822.4V382.4H823.4V414.7H824.4V394.7H825.4V407.8H826.4V404.9H827.4V405.4H828.4V391.1H829.4V389.9H830.4V365.2H831.4V417.8H832.4V421.2H833.4V404.6H834.4V413.9H835.4V398.0H836.4V415.6H837.4V402.1H838.4V391.8H839.4V399.5H840.4V408.0H841.4V408.5H842.4V449.5H843.4V377.4H844.4V422.1H845.4V419.0H846.4V382.9H847.4V411.1H848.4V451.0H849.4V399.1H850.4V399.0H851.4V396.4H852.4V420.9H853.4V413.8H854.4V429.1H855.4V436.0H856.4V399.5H857.4V412.9H858.4V405.5H859.4V426.9H860.4V392.3H861.4V420.3H862.4V434.3H863.4V430.4H864.4V402.2H865.4V401.9H866.4V412.6H867.4V402.6H868.4V407.4H869.4V399.7H870.4V379.1H871.4V423.5H872.4V438.5H873.4V410.8H874.4V400.0H875.4V431.8H876.4V419.9H877.4V408.4H878.4V408.7H879.4V385.2H880.4V431.2H881.4V435.3H882.4V418.8H883.4V422.9H884.4V402.5H885.4V420.6H886.4V426.9H887.4V412.6H888.4V422.3H889.4V426.1H890.4V401.0H891.4V413.0H892.4V454.5H893.4V439.8H894.4V411.1H895.4V456.6H896.4V430.4H897.4V434.5H898.4V447.1H899.4V469.5H900.4V466.0H901.4V417.7H902.4V454.8H903.4V472.1H904.4V454.1H905.4V423.7H906.4V441.5H907.4V441.2H908.4V435.0H909.4V423.7H910.4V442.9H911.4V436.4H912.4V450.0H913.4V459.2H914.4V437.4H915.4V444.9H916.4V432.7H917.4V463.8H918.4V467.8H919.4V445.0H920.4V449.8H921.4V405.7H922.4V428.2H923.4V447.2H924.4V441.4H925.4V449.1H926.4V436.7H927.4V470.8H928.4V444.9H929.4V427.9H930.4V464.0H931.4V449.9H932.4V453.0H933.4V445.5H934.4V457.4H935.4V469.5H936.4V440.7H937.4V481.9H938.4V462.4H939.4V450.0H940.4V422.0H941.4V439.2H942.4V440.8H943.4V447.5H944.4V444.0H945.4V448.5H946.4V440.4H947.4V471.7H948.4V436.6H949.4V444.4H950.4V438.1H951.4V436.3H952.4V465.2H953.4V448.5H954.4V480.3H955.4V449.4H956.4V453.8H957.4V461.4H958.4V414.4H959.4V460.9H960.4V435.8H961.4V437.3H962.4V451.7H963.4V433.4H964.4V448.7H965.4V450.3H966.4V457.1H967.4V461.2H968.4V472.6H969.4V464.8H970.4V428.5H971.4V426.6H972.4V441.2H973.4V454.5H974.4V449.4H975.4V432.6H976.4V462.2H977.4V447.8H978.4V434.3H979.4V461.8H980.4V442.6H981.4V469.5H982.4V430.2H983.4V447.2" stroke="#2d7a2d"/><path d="M245.4,456.9H246.4V470.9H247.4V437.9H248.4V451.7H249.4V423.0H250.4V432.1H251.4V454.5H252.4V426.9H253.4V458.0H254.4V470.7H255.4V443.4H256.4V445.4H257.4V454.5H258.4V448.4H259.4V454.1H260.4V445.2H261.4V464.7H262.4V457.5H263.4V452.8H264.4V425.3H265.4V444.1H266.4V453.3H267.4V461.8H268.4V444.2H269.4V460.7H270.4V463.0H271.4V446.0H272.4V462.6H273.4V451.3H274.4V439.4H275.4V452.9H276.4V469.0H277.4V457.4H278.4V452.1H279.4V462.0H280.4V460.7H281.4V454.6H282.4V429.3H283.4V420.3H284.4V431.1H285.4V471.5H286.4V459.4H287.4V431.3H288.4V460.2H289.4V433.7H290.4V452.7H291.4V461.2H292.4V448.0H293.4V458.9H294.4V460.1H295.4V427.8H296.4V447.1H297.4V454.6H298.4V442.8H299.4V433.0H300.4V467.3H301.4V452.4H302.4V442.6H303.4V438.5H304.4V448.4H305.4V463.6H306.4V442.9H307.4V454.8H308.4V452.5H309.4V446.6H310.4V449.8H311.4V450.9H312.4V439.8H313.4V434.0H314.4V460.5H315.4V469.4H316.4V459.7H317.4V443.1H318.4V453.6H319.4V445.9H320.4V435.4H321.4V440.4H322.4V446.1H323.4V459.3H324.4V438.5H325.4V466.1H326.4V453.3H327.4V468.1H328.4V465.1H329.4V454.6H330.4V453.5H331.4V456.6H332.4V457.3H333.4V461.6H334.4V474.9H335.4V461.2H336.4V473.7H337.4V466.2H338.4V450.4H339.4V460.1H340.4V463.1H341.4V465.5H342.4V450.7H343.4V468.1H344.4V447.9H345.4V453.1H346.4V462.9H347.4V456.8H348.4V444.9H349.4V438.9H350.4V447.9H351.4V446.6H352.4V479.7H353.4V441.7H354.4V437.3H355.4V480.6H356.4V434.8H357.4V447.4H358.4V460.1H359.4V455.2H360.4V458.1H361.4V472.7H362.4V481.8H363.4V455.9H364.4V458.3H365.4V450.1H366.4V447.5H367.4V449.4H368.4V456.4H369.4V448.0H370.4V457.7H371.4V448.7" stroke="#ae4817"/><path d="M245.4,456.9H246.4V450.9H247.4V443.9H248.4V447.3H249.4V455.0H250.4V450.9H251.4V458.2H252.4V454.7H253.4V450.7H254.4V465.4H255.4V465.0H256.4V435.8H257.4V462.4H258.4V453.5H259.4V446.9H260.4V468.7H261.4V461.8H262.4V465.4H263.4V451.6H264.4V480.2H265.4V464.7H266.4V451.3H267.4V481.3H268.4V448.0H269.4V476.3H270.4V453.9H271.4V449.7H272.4V448.6H273.4V445.3H274.4V446.3H275.4V462.1H276.4V456.1H277.4V437.0H278.4V459.1H279.4V438.4H280.4V462.4H281.4V450.1H282.4V453.3H283.4V470.3H284.4V431.2H285.4V483.2H286.4V489.6H287.4V469.6H288.4V463.2H289.4V447.7H290.4V469.6H291.4V454.3H292.4V452.7H293.4V445.5H294.4V471.6H295.4V465.0H296.4V437.0H297.4V452.8H298.4V438.4H299.4V465.5H300.4V443.9H301.4V454.2H302.4V462.2H303.4V453.4H304.4V441.4H305.4V450.9H306.4V440.0H307.4V473.9H308.4V468.0H309.4V435.5H310.4V442.1H311.4V482.8H312.4V463.1H313.4V451.7H314.4V466.8H315.4V460.0H316.4V466.2H317.4V452.6H318.4V478.0H319.4V461.8H320.4V444.4H321.4V458.4H322.4V455.1H323.4V464.1H324.4V463.0H325.4V461.3H326.4V449.9H327.4V462.5H328.4V452.7H329.4V479.6H330.4V445.5H331.4V455.3H332.4V452.4H333.4V446.8H334.4V464.4H335.4V463.9H336.4V462.1H337.4V477.7H338.4V452.9H339.4V465.8H340.4V460.7H341.4V463.3H342.4V443.6H343.4V444.5H344.4V470.1H345.4V444.9H346.4V472.6H347.4V478.0H348.4V452.0H349.4V463.5H350.4V461.6H351.4V477.0H352.4V484.8H353.4V468.2H354.4V468.2H355.4V472.1H356.4V445.5H357.4V456.1H358.4V467.8H359.4V451.3H360.4V477.1H361.4V446.2H362.4V456.1H363.4V460.2H364.4V467.2H365.4V448.4H366.4V454.9H367.4V464.4H368.4V460.7H369.4V466.4H370.4V448.5H371.4V445.2" stroke="#ae4817"/><path d="M74.4,515.0H75.4V478.6H76.4V508.4H77.4V537.6H78.4V484.9H79.4V517.7H80.4V499.1H81.4V534.8H82.4V503.0H83.4V500.7H84.4V538.8H85.4V533.3H86.4V507.7H87.4V482.0H88.4V487.6H89.4V522.5H90.4V523.3H91.4V492.6H92.4V536.2H93.4V525.3H94.4V508.1H95.4V514.1H96.4V519.9H97.4V507.3H98.4V528.3H99.4V514.3H100.4V515.2H101.4V533.6H102.4V526.2H103.4V494.3H104.4V519.1H105.4V502.0H106.4V522.6H107.4V526.9H108.4V497.5H109.4V536.3H110.4V550.8H111.4V528.3H112.4V504.4H113.4V521.2H114.4V529.1H115.4V532.8H116.4V534.4H117.4V513.6H118.4V518.0H119.4V538.6H120.4V571.5H121.4V532.6H122.4V528.2H123.4V538.7H124.4V556.9H125.4V531.4H126.4V488.4H127.4V521.2H128.4V518.7H129.4V513.7H130.4V509.1H131.4V515.9H132.4V573.0H133.4V544.8H134.4V537.5H135.4V512.3H136.4V526.0H137.4V538.8H138.4V530.2H139.4V529.8H140.4V559.3H141.4V554.7H142.4V541.2H143.4V507.0H144.4V534.9H145.4V514.9H146.4V521.3H147.4V530.0H148.4V539.1H149.4V550.0H150.4V495.4H151.4V546.6H152.4V526.4H153.4V537.2H154.4V523.1H155.4V564.1H156.4V539.5H157.4V553.8H158.4V526.3H159.4V556.1H160.4V542.0H161.4V526.8H162.4V536.7H163.4V529.8H164.4V526.7H165.4V562.9H166.4V545.6H167.4V534.5H168.4V515.1H169.4V558.4H170.4V540.9H171.4V536.8H172.4V528.7H173.4V567.0H174.4V562.5H175.4V536.1H176.4V530.0H177.4V528.8H178.4V530.2H179.4V529.6H180.4V503.2H181.4V511.8H182.4V520.2H183.4V534.7H184.4V523.9H185.4V513.8H186.4V494.5H187.4V511.8H188.4V516.7H189.4V515.4H190.4V517.8H191.4V489.2H192.4V483.3H193.4V509.6H194.4V483.0H195.4V498.9H196.4V489.0H197.4V462.7H198.4V485.5H199.4V480.4H200.4V477.2H201.4V473.8H202.4V458.8H203.4V468.7H204.4V469.0H205.4V492.6H206.4V470.8H207.4V476.8H208.4V499.6H209.4V440.6H210.4V487.7H211.4V472.9H212.4V461.8H213.4V447.5H214.4V483.9H215.4V470.9H216.4V459.7H217.4V448.6H218.4V483.6H219.4V493.0H220.4V453.4H221.4V468.9H222.4V476.5H223.4V486.5H224.4V467.0H225.4V507.5H226.4V474.0H227.4V469.7H228.4V462.0H229.4V456.9H230.4V486.6H231.4V475.4H232.4V461.8H233.4V459.1H234.4V491.8H235.4V495.7H236.4V488.4H237.4V481.6H238.4V470.7H239.4V497.3H240.4V503.0H241.4V486.7H242.4V479.8H243.4V510.8H244.4V472.5H245.4V493.9H246.4V521.0H247.4V488.5H248.4V483.3H249.4V451.6H250.4V473.3H251.4V485.2H252.4V517.5H253.4V467.2H254.4V525.2H255.4V490.2H256.4V486.9H257.4V498.8H258.4V471.9H259.4V501.7H260.4V520.9H261.4V462.9H262.4V480.3H263.4V473.8H264.4V497.3H265.4V496.7H266.4V524.6H267.4V476.3H268.4V513.3H269.4V485.7H270.4V501.3H271.4V491.6H272.4V504.8H273.4V480.5H274.4V511.5H275.4V507.9H276.4V470.4H277.4V488.7H278.4V499.6H279.4V476.9H280.4V476.4H281.4V484.6H282.4V500.8H283.4V504.8H284.4V483.6H285.4V507.5H286.4V467.3H287.4V535.4H288.4V495.9H289.4V527.4H290.4V498.1H291.4V499.1H292.4V512.1H293.4V511.2H294.4V480.9H295.4V496.7H296.4V502.8H297.4V499.7H298.4V501.0H299.4V499.7H300.4V500.9H301.4V515.1H302.4V504.7H303.4V501.8H304.4V492.6H305.4V525.2H306.4V501.4H307.4V531.5H308.4V502.0H309.4V490.5H310.4V503.1H311.4V501.8H312.4V501.9H313.4V505.2H314.4V504.2H315.4V526.5H316.4V492.7H317.4V490.7H318.4V490.3H319.4V526.0H320.4V503.1H321.4V508.5H322.4V527.6H323.4V507.8H324.4V483.9H325.4V512.5H326.4V523.0H327.4V539.6H328.4V530.4H329.4V508.2H330.4V507.3H331.4V506.8H332.4V498.6H333.4V527.8H334.4V501.4H335.4V498.7H336.4V484.4H337.4V478.9H338.4V500.5H339.4V513.7H340.4V488.4H341.4V494.5H342.4V480.5H343.4V484.1H344.4V486.9H345.4V514.8H346.4V534.8H347.4V519.0H348.4V503.6H349.4V489.6H350.4V516.6H351.4V484.1H352.4V477.0H353.4V518.0H354.4V476.7H355.4V515.2H356.4V497.6H357.4V512.4H358.4V470.6H359.4V506.0H360.4V505.4H361.4V507.8H362.4V475.3H363.4V489.4H364.4V469.7H365.4V518.2H366.4V493.1H367.4V492.1H368.4V510.4H369.4V487.4H370.4V497.4H371.4V488.9H372.4V506.7H373.4V458.0H374.4V512.0H375.4V496.0H376.4V478.0H377.4V514.1H378.4V530.6H379.4V482.9H380.4V496.2H381.4V496.3H382.4V505.9H383.4V470.3H384.4V493.1H385.4V481.9H386.4V499.0H387.4V479.3H388.4V486.0H389.4V484.2H390.4V484.3H391.4V494.2H392.4V495.8H393.4V472.1H394.4V483.3H395.4V489.8H396.4V503.5H397.4V514.2H398.4V486.8H399.4V495.7H400.4V511.9H401.4V501.4H402.4V484.4H403.4V484.2H404.4V472.0H405.4V515.2H406.4V495.0H407.4V481.8H408.4V482.3H409.4V506.4H410.4V500.8H411.4V501.0H412.4V500.1H413.4V475.0H414.4V473.9H415.4V488.9H416.4V475.7H417.4V486.0H418.4V475.5H419.4V477.0H420.4V496.1H421.4V469.4H422.4V470.5H423.4V504.5H424.4V457.9H425.4V484.3H426.4V478.6H427.4V471.5H428.4V504.2H429.4V466.6H430.4V441.0H431.4V492.0H432.4V504.6H433.4V445.7H434.4V474.9H435.4V469.6H436.4V470.7H437.4V479.5H438.4V470.2H439.4V471.0H440.4V437.4H441.4V441.3H442.4V473.7H443.4V463.7H444.4V467.1H445.4V471.3H446.4V431.8H447.4V428.7H448.4V441.3H449.4V463.2H450.4V455.2H451.4V432.7H452.4V446.8H453.4V449.8H454.4V444.4H455.4V447.3H456.4V468.8H457.4V446.0H458.4V448.1H459.4V435.2H460.4V472.1H461.4V450.3H462.4V440.3H463.4V442.3H464.4V454.6H465.4V427.2H466.4V456.6H467.4V417.1H468.4V416.2H469.4V424.0H470.4V411.3H471.4V442.2H472.4V431.2H473.4V439.3H474.4V455.8H475.4V417.8H476.4V445.1H477.4V425.8H478.4V447.3H479.4V450.3H480.4V429.2H481.4V444.6H482.4V428.1H483.4V456.8H484.4V420.5H485.4V435.1H486.4V408.0H487.4V419.8H488.4V439.6H489.4V441.2H490.4V439.6H491.4V476.2H492.4V444.4H493.4V413.9H494.4V432.2H495.4V444.4H496.4V419.6H497.4V413.2H498.4V454.1H499.4V435.3H500.4V400.8H501.4V430.0H502.4V438.3H503.4V440.1H504.4V439.3H505.4V438.5H506.4V424.4H507.4V429.2H508.4V439.7H509.4V428.8H510.4V450.7H511.4V418.1H512.4V434.1H513.4V439.7H514.4V438.6H515.4V435.8H516.4V426.4H517.4V423.2H518.4V408.6H519.4V422.4H520.4V437.9H521.4V454.7H522.4V411.5H523.4V404.5H524.4V464.7H525.4V408.4H526.4V452.2H527.4V443.1H528.4V443.7H529.4V421.6H530.4V429.8H531.4V432.6H532.4V411.8H533.4V448.2H534.4V392.5H535.4V417.3H536.4V408.9H537.4V421.7H538.4V436.5H539.4V412.0H540.4V433.1H541.4V399.2H542.4V449.7H543.4V418.0H544.4V439.7H545.4V425.0H546.4V422.6H547.4V428.9H548.4V423.4H549.4V433.9H550.4V451.3H551.4V399.0H552.4V394.3H553.4V435.8H554.4V392.9H555.4V444.9H556.4V436.1H557.4V436.9H558.4V435.7H559.4V413.8H560.4V419.1H561.4V410.1H562.4V433.1H563.4V457.1H564.4V421.5H565.4V407.7H566.4V416.4H567.4V375.4H568.4V408.3H569.4V426.4H570.4V411.1H571.4V413.1H572.4V422.5H573.4V418.9H574.4V412.3H575.4V403.8H576.4V422.3H577.4V390.0H578.4V398.2H579.4V411.6H580.4V410.7H581.4V418.4H582.4V379.4H583.4V383.2H584.4V401.6H585.4V374.3H586.4V408.9H587.4V403.4H588.4V406.4H589.4V382.9H590.4V394.4H591.4V386.3H592.4V369.0H593.4V379.7H594.4V404.3H595.4V387.2H596.4V378.1H597.4V384.8H598.4V408.9H599.4V380.5H600.4V386.2H601.4V392.5H602.4V353.2H603.4V370.6H604.4V372.2H605.4V385.9H606.4V371.6H607.4V371.1H608.4V351.5H609.4V350.0H610.4V387.4H611.4V368.5H612.4V385.1H613.4V347.7H614.4V362.2H615.4V370.3H616.4V349.6H617.4V352.8H618.4V327.7H619.4V316.1H620.4V330.5H621.4V318.0H622.4V319.7H623.4V341.4H624.4V334.3H625.4V351.9H626.4V354.5H627.4V346.2H628.4V337.2H629.4V325.9H630.4V339.2H631.4V305.2H632.4V310.5H633.4V338.7H634.4V318.1H635.4V334.6H636.4V327.0H637.4V321.3H638.4V328.4H639.4V315.1H640.4V300.8H641.4V305.1H642.4V319.5H643.4V289.0H644.4V328.6H645.4V304.1H646.4V308.5H647.4V314.3H648.4V316.7H649.4V283.0H650.4V297.5H651.4V278.5H652.4V296.4H653.4V297.6H654.4V294.8H655.4V288.4H656.4V281.6H657.4V285.6H658.4V254.2H659.4V285.8H660.4V288.2H661.4V294.4H662.4V296.9H663.4V280.9H664.4V283.5H665.4V279.9H666.4V287.3H667.4V272.8H668.4V297.7H669.4V290.7H670.4V256.0H671.4V257.9H672.4V251.9H673.4V261.8H674.4V255.6H675.4V265.9H676.4V264.5H677.4V256.2H678.4V246.0H679.4V245.9H680.4V274.6H681.4V248.8H682.4V256.9H683.4V242.1H684.4V270.0H685.4V237.0H686.4V229.7H687.4V228.6H688.4V241.4H689.4V218.1H690.4V199.6H691.4V249.0H692.4V255.7H693.4V253.4H694.4V217.5H695.4V233.9H696.4V231.0H697.4V234.0H698.4V215.5H699.4V211.0H700.4V221.7H701.4V211.3H702.4V206.3H703.4V235.8H704.4V264.9H705.4V226.5H706.4V235.2H707.4V213.4H708.4V265.5H709.4V262.3H710.4V235.7H711.4V248.5H712.4V225.6H713.4V267.2H714.4V255.6H715.4V277.0H716.4V269.9H717.4V276.6H718.4V261.8H719.4V269.7H720.4V302.1H721.4V261.0H722.4V258.3H723.4V306.8H724.4V284.7H725.4V299.5H726.4V295.2H727.4V299.0H728.4V272.6H729.4V286.8H730.4V294.0H731.4V292.3H732.4V305.6H733.4V304.8H734.4V278.0H735.4V327.2H736.4V285.0H737.4V323.6H738.4V311.0H739.4V324.7H740.4V339.5H741.4V308.4H742.4V321.8H743.4V325.2H744.4V303.8H745.4V304.6H746.4V334.6H747.4V341.7H748.4V329.9H749.4V301.3H750.4V342.3H751.4V359.7H752.4V338.9H753.4V339.0H754.4V339.8H755.4V344.1H756.4V316.7H757.4V335.1H758.4V336.2H759.4V334.0H760.4V341.7H761.4V367.6H762.4V355.7H763.4V355.5H764.4V338.1H765.4V361.6H766.4V357.9H767.4V352.6H768.4V366.8H769.4V360.6H770.4V370.0H771.4V336.5H772.4V354.2H773.4V375.6H774.4V390.2H775.4V368.7H776.4V363.6H777.4V365.0H778.4V373.3H779.4V397.8H780.4V373.3H781.4V356.9H782.4V360.8H783.4V371.2H784.4V393.7H785.4V368.4H786.4V356.7H787.4V385.5H788.4V372.2H789.4V366.0H790.4V408.0H791.4V398.4H792.4V426.8H793.4V416.4H794.4V402.1H795.4V384.6H796.4V395.9H797.4V376.7H798.4V400.2H799.4V403.5H800.4V386.2H801.4V387.6H802.4V377.1H803.4V394.7H804.4V395.4H805.4V430.5H806.4V392.4H807.4V434.5H808.4V390.5H809.4V394.2H810.4V394.1H811.4V405.9H812.4V379.8H813.4V422.3H814.4V421.9H815.4V399.4H816.4V405.8H817.4V429.1H818.4V409.8H819.4V423.1H820.4V411.9H821.4V416.4H822.4V402.1H823.4V414.5H824.4V429.4H825.4V424.0H826.4V397.3H827.4V439.3H828.4V413.0H829.4V398.2H830.4V425.2H831.4V428.4H832.4V452.7H833.4V438.4H834.4V424.8H835.4V421.0H836.4V428.9H837.4V429.3H838.4V430.0H839.4V431.4H840.4V428.8H841.4V439.2H842.4V416.4H843.4V418.1H844.4V430.2H845.4V443.2H846.4V420.0H847.4V422.0H848.4V421.0H849.4V438.1H850.4V440.7H851.4V438.0H852.4V397.9H853.4V419.4H854.4V436.2H855.4V429.7H856.4V416.0H857.4V449.1H858.4V406.3H859.4V443.1H860.4V419.2H861.4V451.2H862.4V432.7H863.4V443.8H864.4V415.1H865.4V417.3H866.4V430.6H867.4V452.6H868.4V423.9H869.4V431.8H870.4V427.0H871.4V418.2H872.4V433.7H873.4V450.9H874.4V418.1H875.4V438.2H876.4V420.0H877.4V415.6H878.4V433.3H879.4V437.9H880.4V445.9H881.4V423.5H882.4V447.3H883.4V455.5H884.4V433.3H885.4V436.5H886.4V410.5H887.4V432.4H888.4V439.5H889.4V438.6H890.4V423.2H891.4V446.2H892.4V440.3H893.4V423.1H894.4V424.7H895.4V431.5H896.4V432.2H897.4V452.3H898.4V444.6H899.4V455.4H900.4V426.1H901.4V459.7H902.4V420.3H903.4V445.9H904.4V443.8H905.4V455.5H906.4V436.9H907.4V435.4H908.4V454.0H909.4V441.5H910.4V457.7H911.4V437.6H912.4V452.0H913.4V437.3H914.4V439.4H915.4V495.9H916.4V458.5H917.4V448.6H918.4V460.2H919.4V444.5H920.4V458.8H921.4V461.9H922.4V436.4H923.4V448.4H924.4V448.2H925.4V436.9H926.4V436.7H927.4V432.8H928.4V466.2H929.4V429.5H930.4V475.4H931.4V481.5H932.4V461.5H933.4V475.1H934.4V445.6H935.4V431.8H936.4V455.7H937.4V466.3H938.4V425.0H939.4V451.5H940.4V442.0H941.4V488.1H942.4V440.6H943.4V465.0H944.4V465.3H945.4V487.8H946.4V464.1H947.4V450.0H948.4V483.0H949.4V456.5H950.4V446.7H951.4V420.2H952.4V481.8H953.4V466.3H954.4V441.7H955.4V462.6H956.4V466.3H957.4V452.9H958.4V495.1H959.4V454.9H960.4V452.1H961.4V441.5H962.4V458.8H963.4V463.9H964.4V435.7H965.4V444.2H966.4V430.0H967.4V475.1H968.4V471.4H969.4V440.9H970.4V439.9H971.4V468.4H972.4V450.9H973.4V461.3H974.4V491.1H975.4V456.7H976.4V457.0H977.4V442.0H978.4V456.7H979.4V440.3H980.4V465.4H981.4V444.3H982.4V471.5H983.4V474.5" stroke="#2a9ed4"/><path d="M74.4,543.0H75.4V499.3H76.4V530.9H77.4V479.5H78.4V510.1H79.4V516.6H80.4V468.6H81.4V495.9H82.4V511.2H83.4V540.6H84.4V495.6H85.4V516.2H86.4V492.2H87.4V518.0H88.4V542.6H89.4V527.9H90.4V479.2H91.4V484.6H92.4V479.2H93.4V496.0H94.4V481.6H95.4V539.5H96.4V509.3H97.4V545.0H98.4V507.8H99.4V510.9H100.4V506.0H101.4V513.7H102.4V516.4H103.4V514.4H104.4V498.8H105.4V489.7H106.4V511.5H107.4V525.7H108.4V520.9H109.4V493.7H110.4V528.1H111.4V505.7H112.4V485.1H113.4V514.3H114.4V489.6H115.4V535.1H116.4V518.2H117.4V501.0H118.4V505.3H119.4V513.7H120.4V506.5H121.4V501.9H122.4V547.9H123.4V508.6H124.4V507.0H125.4V484.7H126.4V526.8H127.4V525.5H128.4V530.0H129.4V505.1H130.4V545.1H131.4V504.5H132.4V503.9H133.4V520.0H134.4V519.4H135.4V535.2H136.4V566.2H137.4V528.5H138.4V549.2H139.4V536.9H140.4V514.2H141.4V497.3H142.4V520.9H143.4V504.0H144.4V510.1H145.4V528.6H146.4V517.8H147.4V540.3H148.4V492.9H149.4V505.0H150.4V569.0H151.4V540.8H152.4V531.5H153.4V538.4H154.4V504.6H155.4V507.2H156.4V542.3H157.4V493.2H158.4V536.7H159.4V491.6H160.4V549.5H161.4V537.3H162.4V526.0H163.4V535.9H164.4V535.1H165.4V515.5H166.4V508.3H167.4V527.3H168.4V539.6H169.4V515.6H170.4V534.6H171.4V563.8H172.4V530.6H173.4V530.7H174.4V507.0H175.4V557.1H176.4V526.8H177.4V520.6H178.4V504.0H179.4V539.9H180.4V519.4H181.4V521.4H182.4V508.4H183.4V490.6H184.4V510.9H185.4V509.8H186.4V487.0H187.4V483.3H188.4V492.5H189.4V484.1H190.4V512.7H191.4V522.6H192.4V479.8H193.4V472.1H194.4V499.6H195.4V488.2H196.4V481.9H197.4V477.6H198.4V490.8H199.4V480.2H200.4V479.2H201.4V483.9H202.4V430.4H203.4V474.9H204.4V473.7H205.4V466.7H206.4V456.6H207.4V438.4H208.4V429.5H209.4V457.1H210.4V434.4H211.4V484.0H212.4V468.7H213.4V455.1H214.4V475.2H215.4V462.7H216.4V453.5H217.4V483.1H218.4V464.2H219.4V461.9H220.4V470.9H221.4V470.8H222.4V475.1H223.4V458.6H224.4V462.2H225.4V476.8H226.4V470.4H227.4V475.0H228.4V446.3H229.4V462.1H230.4V457.1H231.4V470.0H232.4V479.4H233.4V462.1H234.4V471.3H235.4V471.9H236.4V479.4H237.4V472.2H238.4V468.1H239.4V465.7H240.4V471.2H241.4V496.6H242.4V500.5H243.4V482.4H244.4V464.6H245.4V477.3H246.4V487.5H247.4V446.8H248.4V469.4H249.4V504.4H250.4V477.0H251.4V458.0H252.4V468.7H253.4V445.7H254.4V471.4H255.4V470.6H256.4V473.3H257.4V473.7H258.4V474.0H259.4V492.7H260.4V481.1H261.4V470.6H262.4V477.7H263.4V446.2H264.4V474.8H265.4V511.5H266.4V501.8H267.4V491.2H268.4V467.0H269.4V482.2H270.4V521.7H271.4V484.6H272.4V485.0H273.4V505.3H274.4V515.2H275.4V500.4H276.4V514.1H277.4V476.9H278.4V512.9H279.4V486.0H280.4V500.0H281.4V461.8H282.4V499.0H283.4V487.8H284.4V499.2H285.4V478.3H286.4V466.4H287.4V485.9H288.4V503.4H289.4V488.2H290.4V482.7H291.4V484.1H292.4V513.8H293.4V489.4H294.4V472.3H295.4V517.0H296.4V494.8H297.4V502.9H298.4V470.8H299.4V494.2H300.4V505.0H301.4V512.6H302.4V507.1H303.4V518.7H304.4V502.1H305.4V490.3H306.4V473.5H307.4V520.9H308.4V507.3H309.4V539.8H310.4V531.3H311.4V488.4H312.4V513.6H313.4V512.7H314.4V514.8H315.4V480.7H316.4V492.0H317.4V492.0H318.4V518.4H319.4V499.9H320.4V483.4H321.4V483.0H322.4V495.7H323.4V475.2H324.4V480.7H325.4V494.6H326.4V512.1H327.4V500.2H328.4V495.7H329.4V477.2H330.4V480.2H331.4V464.6H332.4V500.4H333.4V496.1H334.4V486.0H335.4V534.0H336.4V492.5H337.4V516.4H338.4V497.5H339.4V504.0H340.4V476.9H341.4V498.8H342.4V509.6H343.4V458.7H344.4V516.4H345.4V476.6H346.4V488.7H347.4V484.1H348.4V508.5H349.4V500.5H350.4V480.3H351.4V482.8H352.4V498.5H353.4V482.2H354.4V479.7H355.4V482.0H356.4V507.0H357.4V466.6H358.4V466.7H359.4V494.8H360.4V477.4H361.4V464.8H362.4V498.9H363.4V476.3H364.4V470.0H365.4V464.2H366.4V508.9H367.4V481.9H368.4V507.7H369.4V486.1H370.4V454.0H371.4V445.9H372.4V360.0H373.4V374.9H374.4V381.0H375.4V389.5H376.4V402.8H377.4V408.1H378.4V428.8H379.4V432.6H380.4V423.7H381.4V441.4H382.4V416.1H383.4V444.6H384.4V452.4H385.4V438.1H386.4V440.5H387.4V459.9H388.4V455.4H389.4V484.6H390.4V450.7H391.4V471.4H392.4V490.6H393.4V487.9H394.4V476.9H395.4V460.2H396.4V468.2H397.4V482.0H398.4V472.6H399.4V475.8H400.4V464.7H401.4V466.2H402.4V499.9H403.4V489.2H404.4V438.0H405.4V479.6H406.4V487.2H407.4V457.3H408.4V454.7H409.4V464.4H410.4V463.8H411.4V465.1H412.4V455.2H413.4V504.8H414.4V452.0H415.4V479.3H416.4V480.4H417.4V470.3H418.4V479.9H419.4V491.5H420.4V459.4H421.4V483.9H422.4V484.6H423.4V455.3H424.4V426.0H425.4V466.2H426.4V471.2H427.4V455.2H428.4V460.6H429.4V486.9H430.4V461.9H431.4V469.9H432.4V454.0H433.4V455.4H434.4V452.8H435.4V463.0H436.4V456.3H437.4V462.9H438.4V456.4H439.4V463.0H440.4V463.3H441.4V452.5H442.4V442.3H443.4V427.6H444.4V424.3H445.4V455.4H446.4V447.5H447.4V439.6H448.4V430.6H449.4V444.1H450.4V433.6H451.4V456.5H452.4V439.4H453.4V426.0H454.4V423.6H455.4V433.5H456.4V473.6H457.4V432.9H458.4V413.1H459.4V429.4H460.4V443.9H461.4V445.8H462.4V446.7H463.4V445.7H464.4V435.7H465.4V434.3H466.4V416.4H467.4V436.6H468.4V427.1H469.4V456.4H470.4V404.1H471.4V449.7H472.4V412.6H473.4V432.3H474.4V413.3H475.4V445.4H476.4V436.0H477.4V423.8H478.4V448.1H479.4V424.0H480.4V414.6H481.4V405.8H482.4V425.8H483.4V424.4H484.4V406.2H485.4V417.9H486.4V430.5H487.4V409.3H488.4V452.1H489.4V406.3H490.4V415.8H491.4V424.9H492.4V461.1H493.4V426.6H494.4V411.1H495.4V392.1H496.4V408.4H497.4V407.0H498.4V437.0H499.4V411.9H500.4V407.2H501.4V421.5H502.4V430.4H503.4V392.3H504.4V410.6H505.4V419.5H506.4V438.7H507.4V449.2H508.4V436.1H509.4V423.8H510.4V407.6H511.4V438.8H512.4V393.0H513.4V417.4H514.4V429.5H515.4V414.3H516.4V400.9H517.4V417.7H518.4V406.8H519.4V399.6H520.4V411.8H521.4V405.9H522.4V463.1H523.4V405.2H524.4V436.4H525.4V391.8H526.4V438.3H527.4V423.2H528.4V405.3H529.4V395.4H530.4V403.5H531.4V377.3H532.4V419.7H533.4V389.6H534.4V439.9H535.4V434.7H536.4V427.9H537.4V421.5H538.4V418.9H539.4V381.6H540.4V408.5H541.4V417.5H542.4V415.4H543.4V431.4H544.4V427.3H545.4V413.7H546.4V417.7H547.4V431.3H548.4V409.4H549.4V407.4H550.4V397.4H551.4V387.9H552.4V395.4H553.4V409.3H554.4V386.4H555.4V398.3H556.4V390.6H557.4V403.9H558.4V417.8H559.4V417.8H560.4V417.5H561.4V389.9H562.4V393.7H563.4V401.0H564.4V383.7H565.4V427.4H566.4V377.3H567.4V403.4H568.4V372.1H569.4V377.9H570.4V388.0H571.4V393.6H572.4V381.4H573.4V419.6H574.4V401.0H575.4V415.9H576.4V357.1H577.4V399.0H578.4V418.6H579.4V408.4H580.4V372.1H581.4V370.5H582.4V368.5H583.4V395.8H584.4V365.1H585.4V373.1H586.4V394.6H587.4V369.5H588.4V372.7H589.4V363.7H590.4V401.5H591.4V367.8H592.4V384.8H593.4V374.3H594.4V384.8H595.4V385.4H596.4V372.5H597.4V375.6H598.4V352.7H599.4V372.5H600.4V368.6H601.4V373.5H602.4V333.2H603.4V368.3H604.4V357.6H605.4V344.3H606.4V348.5H607.4V365.0H608.4V367.8H609.4V378.0H610.4V339.5H611.4V336.0H612.4V340.6H613.4V364.8H614.4V352.6H615.4V330.1H616.4V350.1H617.4V343.0H618.4V344.3H619.4V340.9H620.4V324.6H621.4V327.5H622.4V359.8H623.4V326.4H624.4V336.8H625.4V309.1H626.4V304.8H627.4V298.5H628.4V329.6H629.4V324.7H630.4V326.3H631.4V330.4H632.4V309.4H633.4V299.7H634.4V297.5H635.4V306.6H636.4V313.0H637.4V313.0H638.4V314.7H639.4V288.6H640.4V296.9H641.4V260.5H642.4V289.8H643.4V313.0H644.4V285.4H645.4V307.4H646.4V321.3H647.4V320.2H648.4V289.5H649.4V284.6H650.4V294.2H651.4V291.1H652.4V284.4H653.4V282.2H654.4V289.9H655.4V293.2H656.4V285.6H657.4V280.8H658.4V288.4H659.4V290.6H660.4V284.5H661.4V269.4H662.4V256.2H663.4V270.0H664.4V226.4H665.4V256.4H666.4V254.2H667.4V272.2H668.4V241.6H669.4V237.3H670.4V265.5H671.4V261.6H672.4V234.5H673.4V254.1H674.4V247.0H675.4V233.5H676.4V228.5H677.4V234.7H678.4V244.3H679.4V245.8H680.4V259.1H681.4V240.5H682.4V223.3H683.4V209.4H684.4V218.5H685.4V227.1H686.4V222.0H687.4V199.3H688.4V254.3H689.4V245.3H690.4V226.5H691.4V211.3H692.4V204.0H693.4V231.2H694.4V210.0H695.4V225.3H696.4V215.2H697.4V192.2H698.4V207.9H699.4V208.0H700.4V202.0H701.4V210.2H702.4V196.4H703.4V215.7H704.4V218.9H705.4V229.1H706.4V214.3H707.4V252.1H708.4V247.7H709.4V228.1H710.4V249.2H711.4V243.9H712.4V248.5H713.4V271.9H714.4V251.7H715.4V234.5H716.4V280.0H717.4V253.1H718.4V266.5H719.4V245.0H720.4V282.4H721.4V257.1H722.4V251.4H723.4V247.3H724.4V270.2H725.4V304.6H726.4V266.5H727.4V288.8H728.4V285.1H729.4V313.5H730.4V306.6H731.4V281.5H732.4V280.8H733.4V282.9H734.4V287.5H735.4V310.5H736.4V308.2H737.4V284.7H738.4V297.2H739.4V306.5H740.4V281.5H741.4V317.6H742.4V334.9H743.4V302.5H744.4V334.8H745.4V321.2H746.4V319.9H747.4V327.8H748.4V326.0H749.4V355.8H750.4V324.3H751.4V343.3H752.4V336.4H753.4V332.3H754.4V312.7H755.4V346.9H756.4V340.6H757.4V358.2H758.4V346.9H759.4V349.8H760.4V347.2H761.4V303.1H762.4V363.1H763.4V362.3H764.4V354.1H765.4V358.6H766.4V379.8H767.4V337.0H768.4V365.1H769.4V350.3H770.4V357.3H771.4V354.3H772.4V317.2H773.4V355.0H774.4V368.0H775.4V360.4H776.4V368.0H777.4V346.7H778.4V352.1H779.4V350.9H780.4V346.6H781.4V389.2H782.4V368.9H783.4V363.9H784.4V384.0H785.4V350.5H786.4V338.3H787.4V379.8H788.4V352.4H789.4V376.2H790.4V369.5H791.4V359.9H792.4V368.7H793.4V377.3H794.4V381.9H795.4V377.3H796.4V373.7H797.4V361.8H798.4V363.2H799.4V368.7H800.4V372.0H801.4V393.4H802.4V384.1H803.4V370.8H804.4V409.8H805.4V359.5H806.4V425.2H807.4V384.7H808.4V379.8H809.4V381.7H810.4V360.2H811.4V407.9H812.4V386.9H813.4V399.2H814.4V416.9H815.4V401.7H816.4V408.3H817.4V399.3H818.4V370.8H819.4V425.1H820.4V389.3H821.4V355.0H822.4V393.5H823.4V376.6H824.4V416.6H825.4V386.3H826.4V427.6H827.4V395.5H828.4V418.7H829.4V409.6H830.4V407.8H831.4V402.9H832.4V421.6H833.4V408.9H834.4V405.9H835.4V444.4H836.4V439.1H837.4V444.2H838.4V419.4H839.4V412.2H840.4V396.0H841.4V401.7H842.4V406.3H843.4V398.9H844.4V420.7H845.4V418.2H846.4V417.2H847.4V419.8H848.4V394.7H849.4V415.4H850.4V414.9H851.4V414.6H852.4V395.8H853.4V404.0H854.4V413.4H855.4V417.4H856.4V395.9H857.4V435.2H858.4V436.9H859.4V426.4H860.4V439.7H861.4V406.7H862.4V417.0H863.4V427.2H864.4V418.9H865.4V423.0H866.4V404.3H867.4V428.3H868.4V428.1H869.4V412.5H870.4V379.6H871.4V423.0H872.4V417.1H873.4V438.8H874.4V431.1H875.4V418.4H876.4V433.0H877.4V405.7H878.4V427.3H879.4V429.4H880.4V404.1H881.4V432.9H882.4V427.9H883.4V445.2H884.4V443.7H885.4V413.3H886.4V409.0H887.4V389.3H888.4V440.7H889.4V446.3H890.4V436.1H891.4V421.8H892.4V427.1H893.4V414.4H894.4V405.8H895.4V424.1H896.4V439.3H897.4V440.4H898.4V424.8H899.4V430.5H900.4V421.6H901.4V440.3H902.4V445.4H903.4V452.9H904.4V441.8H905.4V427.2H906.4V432.2H907.4V462.2H908.4V441.4H909.4V440.6H910.4V446.1H911.4V438.8H912.4V414.1H913.4V453.0H914.4V413.3H915.4V407.4H916.4V432.6H917.4V466.5H918.4V398.5H919.4V448.9H920.4V464.9H921.4V452.8H922.4V450.6H923.4V459.7H924.4V443.6H925.4V463.7H926.4V420.5H927.4V424.6H928.4V433.0H929.4V434.6H930.4V443.5H931.4V433.1H932.4V426.8H933.4V413.8H934.4V438.4H935.4V413.6H936.4V460.9H937.4V453.1H938.4V468.9H939.4V433.2H940.4V431.1H941.4V458.4H942.4V441.6H943.4V442.4H944.4V479.1H945.4V443.5H946.4V445.2H947.4V447.5H948.4V445.3H949.4V396.7H950.4V432.4H951.4V463.9H952.4V430.2H953.4V430.4H954.4V426.8H955.4V440.9H956.4V443.6H957.4V461.5H958.4V479.4H959.4V435.6H960.4V449.0H961.4V471.6H962.4V439.3H963.4V469.5H964.4V432.6H965.4V420.9H966.4V437.5H967.4V418.2H968.4V446.3H969.4V431.8H970.4V446.5H971.4V449.8H972.4V465.7H973.4V444.7H974.4V436.1H975.4V441.8H976.4V438.7H977.4V415.7H978.4V425.6H979.4V422.1H980.4V417.2H981.4V422.6H982.4V415.6H983.4V449.9" stroke="#13618a"/><path d="M74.4,518.6H75.4V523.2H76.4V505.2H77.4V484.9H78.4V517.8H79.4V511.8H80.4V502.3H81.4V505.9H82.4V503.5H83.4V513.1H84.4V513.2H85.4V496.1H86.4V511.7H87.4V499.7H88.4V490.6H89.4V509.4H90.4V525.7H91.4V517.3H92.4V518.5H93.4V535.0H94.4V522.9H95.4V515.8H96.4V512.2H97.4V537.2H98.4V507.2H99.4V507.3H100.4V526.1H101.4V530.4H102.4V499.7H103.4V527.4H104.4V516.8H105.4V521.3H106.4V515.1H107.4V519.9H108.4V541.8H109.4V530.6H110.4V511.9H111.4V516.8H112.4V505.8H113.4V493.2H114.4V512.8H115.4V534.8H116.4V531.4H117.4V508.7H118.4V558.7H119.4V538.0H120.4V513.5H121.4V525.3H122.4V527.3H123.4V521.7H124.4V549.9H125.4V553.3H126.4V528.0H127.4V536.4H128.4V535.7H129.4V525.3H130.4V511.6H131.4V509.9H132.4V534.9H133.4V532.4H134.4V530.0H135.4V531.6H136.4V533.7H137.4V524.9H138.4V504.1H139.4V501.0H140.4V546.7H141.4V531.6H142.4V511.0H143.4V521.1H144.4V539.5H145.4V556.4H146.4V551.8H147.4V541.0H148.4V540.2H149.4V516.8H150.4V536.0H151.4V524.9H152.4V535.4H153.4V509.7H154.4V542.2H155.4V527.4H156.4V549.2H157.4V512.2H158.4V545.1H159.4V537.3H160.4V524.1H161.4V539.4H162.4V523.5H163.4V555.1H164.4V511.3H165.4V576.7H166.4V522.9H167.4V514.3H168.4V508.3H169.4V544.8H170.4V531.9H171.4V522.2H172.4V522.4H173.4V516.2H174.4V547.6H175.4V544.3H176.4V541.2H177.4V508.9H178.4V535.5H179.4V517.0H180.4V522.1H181.4V506.5H182.4V523.3H183.4V531.2H184.4V508.9H185.4V511.7H186.4V503.2H187.4V486.6H188.4V504.2H189.4V483.4H190.4V496.4H191.4V503.3H192.4V513.8H193.4V477.6H194.4V504.4H195.4V513.7H196.4V489.7H197.4V490.2H198.4V493.2H199.4V492.4H200.4V479.8H201.4V489.8H202.4V437.2H203.4V459.3H204.4V475.7H205.4V493.6H206.4V457.5H207.4V454.3H208.4V460.2H209.4V481.9H210.4V454.7H211.4V479.0H212.4V495.3H213.4V471.1H214.4V488.1H215.4V479.9H216.4V492.0H217.4V458.3H218.4V452.8H219.4V481.3H220.4V493.5H221.4V458.2H222.4V479.7H223.4V454.6H224.4V464.6H225.4V443.3H226.4V463.7H227.4V455.2H228.4V491.8H229.4V470.7H230.4V489.5H231.4V500.1H232.4V445.9H233.4V500.4H234.4V475.8H235.4V479.2H236.4V467.0H237.4V446.6H238.4V458.8H239.4V470.4H240.4V453.2H241.4V477.8H242.4V489.1H243.4V463.2H244.4V470.1H245.4V494.1H246.4V457.6H247.4V490.9H248.4V455.5H249.4V498.9H250.4V481.3H251.4V473.0H252.4V479.4H253.4V511.6H254.4V461.8H255.4V463.8H256.4V498.9H257.4V499.0H258.4V481.6H259.4V498.9H260.4V486.5H261.4V498.8H262.4V488.7H263.4V492.1H264.4V491.5H265.4V479.9H266.4V487.3H267.4V495.6H268.4V490.1H269.4V468.2H270.4V493.3H271.4V526.1H272.4V505.0H273.4V499.0H274.4V487.1H275.4V468.6H276.4V486.2H277.4V474.3H278.4V496.5H279.4V463.7H280.4V493.5H281.4V482.0H282.4V496.1H283.4V488.3H284.4V505.3H285.4V461.3H286.4V490.5H287.4V501.4H288.4V516.8H289.4V492.9H290.4V486.9H291.4V489.6H292.4V503.5H293.4V494.9H294.4V478.2H295.4V486.8H296.4V482.1H297.4V493.7H298.4V497.7H299.4V516.8H300.4V503.4H301.4V485.3H302.4V499.2H303.4V488.1H304.4V493.4H305.4V495.5H306.4V500.9H307.4V494.6H308.4V505.2H309.4V518.2H310.4V522.3H311.4V531.4H312.4V497.0H313.4V492.9H314.4V494.0H315.4V508.7H316.4V493.8H317.4V499.4H318.4V478.8H319.4V494.4H320.4V520.3H321.4V478.2H322.4V488.2H323.4V497.6H324.4V509.7H325.4V490.7H326.4V517.1H327.4V522.8H328.4V524.5H329.4V509.5H330.4V502.1H331.4V487.5H332.4V502.0H333.4V505.5H334.4V468.3H335.4V504.4H336.4V505.9H337.4V510.3H338.4V537.6H339.4V505.3H340.4V508.0H341.4V515.8H342.4V498.8H343.4V502.4H344.4V471.0H345.4V481.6H346.4V490.3H347.4V468.0H348.4V510.6H349.4V505.9H350.4V506.1H351.4V495.0H352.4V451.6H353.4V507.0H354.4V493.6H355.4V525.7H356.4V507.7H357.4V470.4H358.4V463.1H359.4V489.0H360.4V491.1H361.4V495.0H362.4V520.6H363.4V522.2H364.4V506.2H365.4V501.9H366.4V491.8H367.4V505.1H368.4V463.3H369.4V507.6H370.4V493.8H371.4V521.0H372.4V461.0H373.4V506.9H374.4V506.7H375.4V507.5H376.4V555.1H377.4V534.7H378.4V540.4H379.4V539.0H380.4V541.9H381.4V520.3H382.4V473.5H383.4V497.4H384.4V532.4H385.4V476.6H386.4V475.2H387.4V485.5H388.4V496.9H389.4V473.5H390.4V497.3H391.4V493.7H392.4V493.9H393.4V456.4H394.4V485.8H395.4V477.5H396.4V495.4H397.4V444.6H398.4V504.1H399.4V501.5H400.4V459.5H401.4V488.7H402.4V458.4H403.4V455.9H404.4V493.2H405.4V498.9H406.4V478.2H407.4V501.2H408.4V468.6H409.4V498.0H410.4V482.8H411.4V498.7H412.4V493.6H413.4V472.7H414.4V464.7H415.4V480.9H416.4V485.0H417.4V498.4H418.4V465.2H419.4V473.8H420.4V465.5H421.4V501.1H422.4V447.5H423.4V465.7H424.4V482.0H425.4V474.3H426.4V459.5H427.4V473.2H428.4V486.1H429.4V470.9H430.4V478.7H431.4V465.8H432.4V503.9H433.4V462.4H434.4V466.4H435.4V449.7H436.4V444.5H437.4V453.6H438.4V477.2H439.4V461.0H440.4V470.9H441.4V447.6H442.4V434.9H443.4V466.4H444.4V451.5H445.4V455.3H446.4V461.9H447.4V465.8H448.4V462.1H449.4V453.7H450.4V433.8H451.4V453.1H452.4V433.6H453.4V447.6H454.4V437.5H455.4V422.9H456.4V450.9H457.4V471.4H458.4V447.7H459.4V429.0H460.4V424.4H461.4V448.7H462.4V425.0H463.4V415.2H464.4V438.0H465.4V437.2H466.4V438.2H467.4V442.3H468.4V417.7H469.4V432.5H470.4V443.0H471.4V438.0H472.4V453.3H473.4V422.0H474.4V422.7H475.4V418.3H476.4V446.3H477.4V433.1H478.4V439.6H479.4V417.7H480.4V430.5H481.4V433.9H482.4V436.2H483.4V420.9H484.4V431.6H485.4V421.8H486.4V450.9H487.4V411.6H488.4V430.5H489.4V402.7H490.4V387.8H491.4V408.6H492.4V451.6H493.4V458.6H494.4V431.0H495.4V424.2H496.4V402.1H497.4V437.9H498.4V430.8H499.4V427.2H500.4V431.7H501.4V423.1H502.4V467.5H503.4V408.1H504.4V435.3H505.4V428.8H506.4V435.4H507.4V432.2H508.4V424.1H509.4V412.8H510.4V435.5H511.4V425.1H512.4V424.4H513.4V424.9H514.4V408.2H515.4V423.6H516.4V422.4H517.4V449.6H518.4V442.0H519.4V409.7H520.4V437.3H521.4V398.7H522.4V408.6H523.4V434.3H524.4V413.7H525.4V424.1H526.4V429.2H527.4V406.8H528.4V435.5H529.4V420.7H530.4V405.6H531.4V432.5H532.4V425.0H533.4V449.0H534.4V437.0H535.4V430.7H536.4V409.8H537.4V429.9H538.4V418.3H539.4V419.5H540.4V430.3H541.4V408.9H542.4V443.3H543.4V428.7H544.4V409.0H545.4V421.6H546.4V427.3H547.4V427.0H548.4V412.0H549.4V393.6H550.4V409.4H551.4V419.6H552.4V416.2H553.4V406.2H554.4V422.5H555.4V419.2H556.4V426.2H557.4V421.8H558.4V427.4H559.4V385.1H560.4V416.6H561.4V368.9H562.4V404.8H563.4V410.9H564.4V391.7H565.4V424.8H566.4V421.2H567.4V405.6H568.4V419.0H569.4V422.4H570.4V368.1H571.4V401.4H572.4V400.5H573.4V440.5H574.4V381.7H575.4V402.0H576.4V432.1H577.4V403.5H578.4V402.1H579.4V440.6H580.4V399.2H581.4V405.8H582.4V402.2H583.4V360.9H584.4V378.3H585.4V371.7H586.4V383.0H587.4V385.9H588.4V406.9H589.4V409.4H590.4V413.1H591.4V398.3H592.4V387.7H593.4V374.8H594.4V340.6H595.4V400.5H596.4V393.8H597.4V379.7H598.4V378.7H599.4V384.4H600.4V379.0H601.4V377.2H602.4V381.9H603.4V364.2H604.4V354.6H605.4V363.5H606.4V361.6H607.4V373.4H608.4V366.9H609.4V355.4H610.4V405.7H611.4V355.3H612.4V349.3H613.4V350.8H614.4V368.4H615.4V361.2H616.4V343.3H617.4V334.9H618.4V382.8H619.4V328.1H620.4V326.0H621.4V340.9H622.4V341.4H623.4V341.8H624.4V323.5H625.4V348.3H626.4V332.0H627.4V350.1H628.4V329.6H629.4V339.5H630.4V327.5H631.4V343.1H632.4V338.0H633.4V305.9H634.4V321.5H635.4V336.1H636.4V313.4H637.4V328.9H638.4V303.5H639.4V303.2H640.4V328.0H641.4V301.9H642.4V289.1H643.4V303.2H644.4V304.6H645.4V310.7H646.4V304.9H647.4V304.6H648.4V316.5H649.4V309.4H650.4V280.2H651.4V273.7H652.4V312.4H653.4V291.8H654.4V295.9H655.4V280.1H656.4V291.3H657.4V287.5H658.4V265.8H659.4V304.5H660.4V266.0H661.4V284.7H662.4V273.3H663.4V283.0H664.4V283.6H665.4V259.2H666.4V290.5H667.4V279.9H668.4V253.8H669.4V255.9H670.4V263.6H671.4V284.6H672.4V258.2H673.4V250.6H674.4V278.2H675.4V258.0H676.4V250.3H677.4V265.8H678.4V236.0H679.4V282.1H680.4V265.1H681.4V262.4H682.4V279.1H683.4V240.1H684.4V244.9H685.4V274.5H686.4V209.5H687.4V239.2H688.4V240.1H689.4V239.4H690.4V245.5H691.4V212.8H692.4V199.5H693.4V214.6H694.4V187.8H695.4V224.0H696.4V222.6H697.4V185.8H698.4V209.9H699.4V194.2H700.4V227.4H701.4V211.9H702.4V227.7H703.4V206.6H704.4V231.8H705.4V240.9H706.4V221.4H707.4V235.2H708.4V250.6H709.4V246.8H710.4V221.4H711.4V247.0H712.4V258.3H713.4V245.5H714.4V267.9H715.4V234.5H716.4V277.3H717.4V262.5H718.4V284.9H719.4V265.5H720.4V267.5H721.4V277.2H722.4V311.3H723.4V283.6H724.4V272.9H725.4V297.1H726.4V283.8H727.4V305.9H728.4V298.9H729.4V287.2H730.4V304.7H731.4V312.2H732.4V290.6H733.4V267.4H734.4V302.4H735.4V310.2H736.4V300.0H737.4V338.9H738.4V320.1H739.4V318.7H740.4V281.7H741.4V318.4H742.4V291.3H743.4V314.1H744.4V332.2H745.4V319.2H746.4V338.6H747.4V325.0H748.4V336.1H749.4V312.5H750.4V334.7H751.4V314.5H752.4V344.9H753.4V369.6H754.4V351.1H755.4V313.6H756.4V330.1H757.4V330.1H758.4V349.0H759.4V354.7H760.4V343.5H761.4V370.8H762.4V355.4H763.4V374.1H764.4V354.0H765.4V361.5H766.4V352.5H767.4V359.5H768.4V352.2H769.4V380.0H770.4V361.2H771.4V378.6H772.4V374.0H773.4V368.7H774.4V383.9H775.4V366.8H776.4V369.5H777.4V335.5H778.4V362.7H779.4V370.0H780.4V380.8H781.4V386.0H782.4V372.5H783.4V336.8H784.4V391.0H785.4V378.7H786.4V365.0H787.4V374.5H788.4V398.5H789.4V384.8H790.4V399.0H791.4V382.1H792.4V391.0H793.4V400.5H794.4V381.6H795.4V378.4H796.4V382.2H797.4V388.9H798.4V363.9H799.4V405.9H800.4V411.5H801.4V396.4H802.4V401.1H803.4V385.8H804.4V376.5H805.4V405.6H806.4V412.6H807.4V411.9H808.4V381.6H809.4V420.7H810.4V408.7H811.4V395.7H812.4V409.4H813.4V403.9H814.4V386.6H815.4V403.0H816.4V428.0H817.4V393.4H818.4V401.5H819.4V384.7H820.4V398.0H821.4V401.2H822.4V436.9H823.4V421.7H824.4V409.9H825.4V433.4H826.4V426.2H827.4V397.0H828.4V423.5H829.4V425.0H830.4V406.8H831.4V421.2H832.4V423.0H833.4V393.5H834.4V428.9H835.4V433.6H836.4V433.5H837.4V405.2H838.4V387.0H839.4V439.0H840.4V405.8H841.4V436.9H842.4V403.5H843.4V428.4H844.4V404.1H845.4V432.4H846.4V455.9H847.4V424.0H848.4V412.5H849.4V388.9H850.4V406.5H851.4V428.3H852.4V442.5H853.4V435.2H854.4V420.2H855.4V409.7H856.4V399.7H857.4V455.2H858.4V457.9H859.4V404.0H860.4V423.9H861.4V383.1H862.4V407.1H863.4V393.1H864.4V430.0H865.4V467.5H866.4V402.8H867.4V439.9H868.4V442.4H869.4V440.1H870.4V417.1H871.4V454.7H872.4V441.7H873.4V459.5H874.4V422.3H875.4V420.6H876.4V437.4H877.4V418.5H878.4V436.3H879.4V449.5H880.4V439.2H881.4V415.0H882.4V438.5H883.4V422.0H884.4V457.8H885.4V436.8H886.4V420.5H887.4V430.0H888.4V420.2H889.4V413.6H890.4V445.3H891.4V407.3H892.4V409.5H893.4V439.2H894.4V449.8H895.4V440.8H896.4V452.3H897.4V439.5H898.4V448.0H899.4V451.4H900.4V449.5H901.4V455.9H902.4V442.8H903.4V478.0H904.4V422.8H905.4V460.9H906.4V444.2H907.4V462.5H908.4V447.0H909.4V439.0H910.4V433.7H911.4V444.6H912.4V452.4H913.4V442.1H914.4V455.9H915.4V458.9H916.4V431.5H917.4V451.3H918.4V414.9H919.4V478.3H920.4V441.9H921.4V448.1H922.4V453.1H923.4V427.6H924.4V443.3H925.4V468.1H926.4V468.3H927.4V431.6H928.4V432.6H929.4V453.8H930.4V431.1H931.4V429.1H932.4V471.7H933.4V435.6H934.4V455.9H935.4V466.0H936.4V452.2H937.4V461.6H938.4V482.3H939.4V457.7H940.4V468.2H941.4V442.3H942.4V478.5H943.4V450.2H944.4V460.2H945.4V431.5H946.4V453.3H947.4V457.3H948.4V449.5H949.4V476.1H950.4V432.5H951.4V454.8H952.4V441.7H953.4V472.1H954.4V462.6H955.4V428.4H956.4V424.8H957.4V436.7H958.4V468.1H959.4V458.4H960.4V458.6H961.4V464.0H962.4V439.3H963.4V449.4H964.4V462.3H965.4V456.0H966.4V458.9H967.4V471.6H968.4V442.5H969.4V467.7H970.4V458.1H971.4V452.5H972.4V442.2H973.4V453.9H974.4V454.6H975.4V439.8H976.4V454.1H977.4V465.7H978.4V449.2H979.4V459.3H980.4V433.4H981.4V462.2H982.4V452.9H983.4V453.5" stroke="#13618a"/></g>
</svg>
</body></html>
